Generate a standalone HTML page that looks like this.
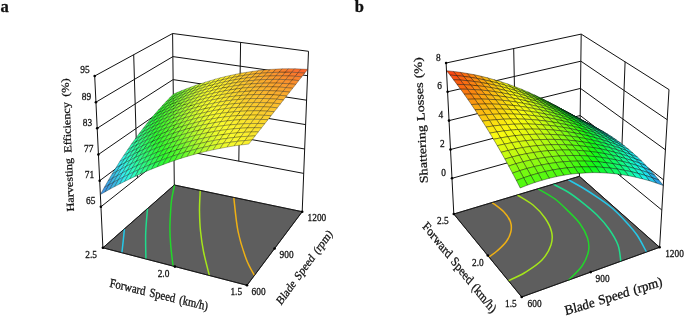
<!DOCTYPE html>
<html><head><meta charset="utf-8"><title>Response surfaces</title>
<style>html,body{margin:0;padding:0;background:#fff}svg{display:block}</style></head>
<body>
<svg width="685" height="319" viewBox="0 0 685 319" font-family="'Liberation Serif', 'Times New Roman', serif" fill="#111">
<g stroke="#111" fill="none">
<line x1="100.9" y1="206.8" x2="173.9" y2="148.9" stroke-width="1.0"/>
<line x1="173.9" y1="148.9" x2="303.7" y2="173.4" stroke-width="1.0"/>
<line x1="99.7" y1="180.7" x2="173.6" y2="125.8" stroke-width="1.0"/>
<line x1="173.6" y1="125.8" x2="304.7" y2="149" stroke-width="1.0"/>
<line x1="98.4" y1="154.5" x2="173.4" y2="102.7" stroke-width="1.0"/>
<line x1="173.4" y1="102.7" x2="305.6" y2="124.6" stroke-width="1.0"/>
<line x1="97.2" y1="128.3" x2="173.1" y2="79.6" stroke-width="1.0"/>
<line x1="173.1" y1="79.6" x2="306.6" y2="100.2" stroke-width="1.0"/>
<line x1="95.9" y1="102.2" x2="172.9" y2="56.6" stroke-width="1.0"/>
<line x1="172.9" y1="56.6" x2="307.5" y2="75.7" stroke-width="1.0"/>
<line x1="94.7" y1="76" x2="172.6" y2="33.5" stroke-width="1.0"/>
<line x1="172.6" y1="33.5" x2="308.5" y2="51.3" stroke-width="1.0"/>
<line x1="102.9" y1="247.8" x2="94.7" y2="76" stroke-width="1.0"/>
<line x1="174.3" y1="185" x2="172.6" y2="33.5" stroke-width="1.0"/>
<line x1="302.2" y1="211.7" x2="308.5" y2="51.3" stroke-width="1.0"/>
<line x1="137.4" y1="177.8" x2="133.7" y2="54.8" stroke-width="1.0"/>
<line x1="238.8" y1="161.2" x2="240.6" y2="42.4" stroke-width="1.0"/>
</g>
<polygon points="102.9,247.8 174.3,185 302.2,211.7 247,285.3" fill="#5e5e5e" stroke="#111" stroke-width="0.8"/>
<g fill="none" stroke-width="1.5" stroke-linecap="butt">
<path d="M124.4 229C124.2 231 123.6 237 123.2 241C122.8 245 122.1 250.8 121.9 252.8" stroke="#25c8e8"/>
<path d="M147.5 208.5C147.2 212.6 146 224.6 145.7 233C145.4 241.4 145.9 254.7 145.9 259" stroke="#1fdc8c"/>
<path d="M174.6 184.8C174.1 187.3 172.3 195 171.6 200C170.9 205 170.7 210.3 170.4 215C170.1 219.7 169.9 223 169.9 228C169.9 233 170.2 238.7 170.7 245C171.2 251.3 172.6 262.3 173 265.8" stroke="#22d62a"/>
<path d="M200.2 190.6C200.1 194 199.4 204.3 199.5 211C199.6 217.7 199.8 224.2 200.5 231C201.2 237.8 202.1 244.6 203.6 252C205.1 259.4 208.4 271.4 209.3 275.3" stroke="#a5e61a"/>
<path d="M233.8 197.6C234.5 203.3 236 221.5 238.1 231.7C240.2 241.9 243.5 251.7 246.2 259C248.9 266.3 253 272.7 254.4 275.4" stroke="#eeb014"/>
</g>
<polygon points="102.9,247.8 174.3,185 302.2,211.7 247,285.3" fill="none" stroke="#111" stroke-width="0.8"/>
<g stroke="rgba(0,0,0,0.62)" stroke-width="0.45" stroke-linejoin="round">
<polygon points="169.5,98 173.9,96.1 177.6,92.3 173.3,94.2" fill="#4efa2d"/>
<polygon points="173.9,96.1 178.4,94.2 182.1,90.5 177.6,92.3" fill="#5ffa2d"/>
<polygon points="178.4,94.2 182.9,92.4 186.6,88.7 182.1,90.5" fill="#78fa2d"/>
<polygon points="182.9,92.4 187.5,90.6 191.2,87 186.6,88.7" fill="#91fa2d"/>
<polygon points="165.8,101.9 170.2,99.9 173.9,96.1 169.5,98" fill="#45fa2d"/>
<polygon points="187.5,90.6 192.2,88.9 195.8,85.3 191.2,87" fill="#aafa2d"/>
<polygon points="170.2,99.9 174.6,98 178.4,94.2 173.9,96.1" fill="#57fa2d"/>
<polygon points="192.2,88.9 196.9,87.2 200.6,83.7 195.8,85.3" fill="#c0fa2d"/>
<polygon points="174.6,98 179.2,96.1 182.9,92.4 178.4,94.2" fill="#6dfa2d"/>
<polygon points="196.9,87.2 201.8,85.6 205.4,82.2 200.6,83.7" fill="#d3fa2d"/>
<polygon points="179.2,96.1 183.8,94.3 187.5,90.6 182.9,92.4" fill="#86fa2d"/>
<polygon points="162,106 166.4,104 170.2,99.9 165.8,101.9" fill="#3cfa2d"/>
<polygon points="201.8,85.6 206.7,84.1 210.3,80.7 205.4,82.2" fill="#e6fa2d"/>
<polygon points="183.8,94.3 188.5,92.5 192.2,88.9 187.5,90.6" fill="#9ffa2d"/>
<polygon points="166.4,104 170.9,102 174.6,98 170.2,99.9" fill="#4efa2d"/>
<polygon points="206.7,84.1 211.7,82.6 215.3,79.2 210.3,80.7" fill="#f2fa2d"/>
<polygon points="188.5,92.5 193.3,90.8 196.9,87.2 192.2,88.9" fill="#b7fa2d"/>
<polygon points="170.9,102 175.5,100 179.2,96.1 174.6,98" fill="#60fa2d"/>
<polygon points="211.7,82.6 216.8,81.2 220.3,77.8 215.3,79.2" fill="#faf92d"/>
<polygon points="193.3,90.8 198.2,89.2 201.8,85.6 196.9,87.2" fill="#cbfa2d"/>
<polygon points="175.5,100 180.1,98.2 183.8,94.3 179.2,96.1" fill="#7afa2d"/>
<polygon points="158.2,110.2 162.6,108.1 166.4,104 162,106" fill="#31fa2d"/>
<polygon points="216.8,81.2 222,79.9 225.5,76.5 220.3,77.8" fill="#faf12d"/>
<polygon points="198.2,89.2 203.1,87.6 206.7,84.1 201.8,85.6" fill="#defa2d"/>
<polygon points="180.1,98.2 184.8,96.3 188.5,92.5 183.8,94.3" fill="#93fa2d"/>
<polygon points="162.6,108.1 167.1,106.1 170.9,102 166.4,104" fill="#44fa2d"/>
<polygon points="222,79.9 227.3,78.6 230.8,75.3 225.5,76.5" fill="#fae82d"/>
<polygon points="203.1,87.6 208.2,86.1 211.7,82.6 206.7,84.1" fill="#eefa2d"/>
<polygon points="184.8,96.3 189.7,94.6 193.3,90.8 188.5,92.5" fill="#acfa2d"/>
<polygon points="167.1,106.1 171.7,104.1 175.5,100 170.9,102" fill="#56fa2d"/>
<polygon points="227.3,78.6 232.7,77.5 236.1,74.2 230.8,75.3" fill="#fade2d"/>
<polygon points="208.2,86.1 213.3,84.7 216.8,81.2 211.7,82.6" fill="#f7fa2d"/>
<polygon points="189.7,94.6 194.6,92.9 198.2,89.2 193.3,90.8" fill="#c2fa2d"/>
<polygon points="171.7,104.1 176.4,102.2 180.1,98.2 175.5,100" fill="#6cfa2d"/>
<polygon points="154.4,114.6 158.8,112.5 162.6,108.1 158.2,110.2" fill="#2dfa34"/>
<polygon points="232.7,77.5 238.1,76.4 241.5,73.1 236.1,74.2" fill="#fad32d"/>
<polygon points="213.3,84.7 218.5,83.3 222,79.9 216.8,81.2" fill="#faf52d"/>
<polygon points="194.6,92.9 199.5,91.3 203.1,87.6 198.2,89.2" fill="#d5fa2d"/>
<polygon points="176.4,102.2 181.2,100.3 184.8,96.3 180.1,98.2" fill="#86fa2d"/>
<polygon points="158.8,112.5 163.4,110.4 167.1,106.1 162.6,108.1" fill="#39fa2d"/>
<polygon points="238.1,76.4 243.7,75.5 247,72.2 241.5,73.1" fill="#fac92d"/>
<polygon points="218.5,83.3 223.8,82.1 227.3,78.6 222,79.9" fill="#faeb2d"/>
<polygon points="199.5,91.3 204.6,89.7 208.2,86.1 203.1,87.6" fill="#e8fa2d"/>
<polygon points="181.2,100.3 186,98.5 189.7,94.6 184.8,96.3" fill="#9ffa2d"/>
<polygon points="163.4,110.4 168,108.3 171.7,104.1 167.1,106.1" fill="#4cfa2d"/>
<polygon points="243.7,75.5 249.3,74.6 252.7,71.3 247,72.2" fill="#fac02d"/>
<polygon points="223.8,82.1 229.2,80.9 232.7,77.5 227.3,78.6" fill="#fae22d"/>
<polygon points="204.6,89.7 209.8,88.3 213.3,84.7 208.2,86.1" fill="#f3fa2d"/>
<polygon points="186,98.5 190.9,96.8 194.6,92.9 189.7,94.6" fill="#b8fa2d"/>
<polygon points="168,108.3 172.7,106.4 176.4,102.2 171.7,104.1" fill="#5efa2d"/>
<polygon points="150.6,119.1 155,116.9 158.8,112.5 154.4,114.6" fill="#2dfa40"/>
<polygon points="249.3,74.6 255.1,73.9 258.4,70.6 252.7,71.3" fill="#fab62d"/>
<polygon points="229.2,80.9 234.7,79.8 238.1,76.4 232.7,77.5" fill="#fad82d"/>
<polygon points="209.8,88.3 215,86.9 218.5,83.3 213.3,84.7" fill="#faf82d"/>
<polygon points="190.9,96.8 195.9,95.1 199.5,91.3 194.6,92.9" fill="#ccfa2d"/>
<polygon points="172.7,106.4 177.5,104.4 181.2,100.3 176.4,102.2" fill="#78fa2d"/>
<polygon points="155,116.9 159.6,114.8 163.4,110.4 158.8,112.5" fill="#2efa2d"/>
<polygon points="255.1,73.9 260.9,73.3 264.2,70 258.4,70.6" fill="#faac2d"/>
<polygon points="234.7,79.8 240.3,78.9 243.7,75.5 238.1,76.4" fill="#facd2d"/>
<polygon points="215,86.9 220.4,85.6 223.8,82.1 218.5,83.3" fill="#faf02d"/>
<polygon points="195.9,95.1 201,93.5 204.6,89.7 199.5,91.3" fill="#dffa2d"/>
<polygon points="177.5,104.4 182.3,102.6 186,98.5 181.2,100.3" fill="#92fa2d"/>
<polygon points="159.6,114.8 164.2,112.7 168,108.3 163.4,110.4" fill="#41fa2d"/>
<polygon points="260.9,73.3 266.9,72.8 270.1,69.4 264.2,70" fill="#faa22d"/>
<polygon points="240.3,78.9 246,78 249.3,74.6 243.7,75.5" fill="#fac42d"/>
<polygon points="220.4,85.6 225.8,84.5 229.2,80.9 223.8,82.1" fill="#fae72d"/>
<polygon points="201,93.5 206.2,92.1 209.8,88.3 204.6,89.7" fill="#effa2d"/>
<polygon points="182.3,102.6 187.3,100.8 190.9,96.8 186,98.5" fill="#abfa2d"/>
<polygon points="164.2,112.7 168.9,110.7 172.7,106.4 168,108.3" fill="#54fa2d"/>
<polygon points="146.7,123.8 151.2,121.6 155,116.9 150.6,119.1" fill="#2dfa4f"/>
<polygon points="246,78 251.8,77.3 255.1,73.9 249.3,74.6" fill="#fabb2d"/>
<polygon points="266.9,72.8 272.9,72.5 276.1,69.1 270.1,69.4" fill="#fa972d"/>
<polygon points="225.8,84.5 231.3,83.4 234.7,79.8 229.2,80.9" fill="#fadd2d"/>
<polygon points="206.2,92.1 211.5,90.7 215,86.9 209.8,88.3" fill="#f7fa2d"/>
<polygon points="187.3,100.8 192.3,99.1 195.9,95.1 190.9,96.8" fill="#c1fa2d"/>
<polygon points="168.9,110.7 173.7,108.7 177.5,104.4 172.7,106.4" fill="#68fa2d"/>
<polygon points="151.2,121.6 155.8,119.4 159.6,114.8 155,116.9" fill="#2dfa38"/>
<polygon points="251.8,77.3 257.7,76.7 260.9,73.3 255.1,73.9" fill="#fab12d"/>
<polygon points="231.3,83.4 236.9,82.4 240.3,78.9 234.7,79.8" fill="#fad32d"/>
<polygon points="272.9,72.5 279.1,72.3 282.2,68.8 276.1,69.1" fill="#fa8d2d"/>
<polygon points="211.5,90.7 216.9,89.3 220.4,85.6 215,86.9" fill="#faf42d"/>
<polygon points="192.3,99.1 197.4,97.5 201,93.5 195.9,95.1" fill="#d4fa2d"/>
<polygon points="173.7,108.7 178.6,106.8 182.3,102.6 177.5,104.4" fill="#83fa2d"/>
<polygon points="155.8,119.4 160.5,117.3 164.2,112.7 159.6,114.8" fill="#35fa2d"/>
<polygon points="236.9,82.4 242.7,81.6 246,78 240.3,78.9" fill="#fac92d"/>
<polygon points="216.9,89.3 222.3,88.1 225.8,84.5 220.4,85.6" fill="#faeb2d"/>
<polygon points="257.7,76.7 263.7,76.3 266.9,72.8 260.9,73.3" fill="#faa82d"/>
<polygon points="197.4,97.5 202.6,96 206.2,92.1 201,93.5" fill="#e7fa2d"/>
<polygon points="279.1,72.3 285.4,72.2 288.5,68.7 282.2,68.8" fill="#fa812d"/>
<polygon points="178.6,106.8 183.6,105 187.3,100.8 182.3,102.6" fill="#9cfa2d"/>
<polygon points="160.5,117.3 165.2,115.2 168.9,110.7 164.2,112.7" fill="#48fa2d"/>
<polygon points="142.9,128.7 147.4,126.4 151.2,121.6 146.7,123.8" fill="#2dfa60"/>
<polygon points="222.3,88.1 227.9,87.1 231.3,83.4 225.8,84.5" fill="#fae32d"/>
<polygon points="242.7,81.6 248.5,80.9 251.8,77.3 246,78" fill="#fac02d"/>
<polygon points="202.6,96 208,94.5 211.5,90.7 206.2,92.1" fill="#f3fa2d"/>
<polygon points="263.7,76.3 269.8,76 272.9,72.5 266.9,72.8" fill="#fa9f2d"/>
<polygon points="183.6,105 188.7,103.3 192.3,99.1 187.3,100.8" fill="#b5fa2d"/>
<polygon points="285.4,72.2 291.7,72.3 294.8,68.7 288.5,68.7" fill="#fa772d"/>
<polygon points="165.2,115.2 170,113.2 173.7,108.7 168.9,110.7" fill="#5afa2d"/>
<polygon points="147.4,126.4 152,124.2 155.8,119.4 151.2,121.6" fill="#2dfa47"/>
<polygon points="227.9,87.1 233.5,86.1 236.9,82.4 231.3,83.4" fill="#fad82d"/>
<polygon points="208,94.5 213.4,93.2 216.9,89.3 211.5,90.7" fill="#faf92d"/>
<polygon points="248.5,80.9 254.4,80.3 257.7,76.7 251.8,77.3" fill="#fab72d"/>
<polygon points="188.7,103.3 193.8,101.6 197.4,97.5 192.3,99.1" fill="#c9fa2d"/>
<polygon points="269.8,76 276,75.8 279.1,72.3 272.9,72.5" fill="#fa952d"/>
<polygon points="170,113.2 174.9,111.2 178.6,106.8 173.7,108.7" fill="#72fa2d"/>
<polygon points="291.7,72.3 298.2,72.6 301.2,69 294.8,68.7" fill="#fa6e2d"/>
<polygon points="152,124.2 156.7,122 160.5,117.3 155.8,119.4" fill="#2dfa32"/>
<polygon points="213.4,93.2 218.8,92 222.3,88.1 216.9,89.3" fill="#faf12d"/>
<polygon points="193.8,101.6 199.1,100 202.6,96 197.4,97.5" fill="#dcfa2d"/>
<polygon points="233.5,86.1 239.3,85.2 242.7,81.6 236.9,82.4" fill="#face2d"/>
<polygon points="174.9,111.2 179.9,109.4 183.6,105 178.6,106.8" fill="#8cfa2d"/>
<polygon points="254.4,80.3 260.4,79.8 263.7,76.3 257.7,76.7" fill="#faae2d"/>
<polygon points="156.7,122 161.4,119.8 165.2,115.2 160.5,117.3" fill="#3cfa2d"/>
<polygon points="276,75.8 282.3,75.8 285.4,72.2 279.1,72.3" fill="#fa8d2d"/>
<polygon points="139,133.7 143.6,131.4 147.4,126.4 142.9,128.7" fill="#2dfa72"/>
<polygon points="298.2,72.6 304.8,73.1 307.8,69.3 301.2,69" fill="#fa662d"/>
<polygon points="199.1,100 204.4,98.6 208,94.5 202.6,96" fill="#edfa2d"/>
<polygon points="218.8,92 224.4,90.9 227.9,87.1 222.3,88.1" fill="#fae82d"/>
<polygon points="179.9,109.4 185,107.6 188.7,103.3 183.6,105" fill="#a6fa2d"/>
<polygon points="239.3,85.2 245.1,84.5 248.5,80.9 242.7,81.6" fill="#fac62d"/>
<polygon points="161.4,119.8 166.3,117.8 170,113.2 165.2,115.2" fill="#4efa2d"/>
<polygon points="260.4,79.8 266.5,79.5 269.8,76 263.7,76.3" fill="#faa62d"/>
<polygon points="143.6,131.4 148.2,129.1 152,124.2 147.4,126.4" fill="#2dfa59"/>
<polygon points="282.3,75.8 288.7,76 291.7,72.3 285.4,72.2" fill="#fa832d"/>
<polygon points="204.4,98.6 209.8,97.2 213.4,93.2 208,94.5" fill="#f6fa2d"/>
<polygon points="185,107.6 190.2,105.9 193.8,101.6 188.7,103.3" fill="#bdfa2d"/>
<polygon points="224.4,90.9 230.1,89.9 233.5,86.1 227.9,87.1" fill="#fadf2d"/>
<polygon points="166.3,117.8 171.2,115.8 174.9,111.2 170,113.2" fill="#61fa2d"/>
<polygon points="245.1,84.5 251.1,83.9 254.4,80.3 248.5,80.9" fill="#fabe2d"/>
<polygon points="148.2,129.1 152.9,126.9 156.7,122 152,124.2" fill="#2dfa3f"/>
<polygon points="266.5,79.5 272.8,79.4 276,75.8 269.8,76" fill="#fa9d2d"/>
<polygon points="288.7,76 295.2,76.3 298.2,72.6 291.7,72.3" fill="#fa7b2d"/>
<polygon points="190.2,105.9 195.5,104.3 199.1,100 193.8,101.6" fill="#d0fa2d"/>
<polygon points="209.8,97.2 215.4,95.9 218.8,92 213.4,93.2" fill="#faf62d"/>
<polygon points="171.2,115.8 176.2,113.9 179.9,109.4 174.9,111.2" fill="#7bfa2d"/>
<polygon points="230.1,89.9 235.9,89 239.3,85.2 233.5,86.1" fill="#fad52d"/>
<polygon points="152.9,126.9 157.7,124.7 161.4,119.8 156.7,122" fill="#2efa2d"/>
<polygon points="251.1,83.9 257.2,83.5 260.4,79.8 254.4,80.3" fill="#fab52d"/>
<polygon points="135.2,138.9 139.8,136.5 143.6,131.4 139,133.7" fill="#2dfa85"/>
<polygon points="272.8,79.4 279.1,79.4 282.3,75.8 276,75.8" fill="#fa952d"/>
<polygon points="295.2,76.3 301.8,76.8 304.8,73.1 298.2,72.6" fill="#fa742d"/>
<polygon points="176.2,113.9 181.4,112.1 185,107.6 179.9,109.4" fill="#95fa2d"/>
<polygon points="195.5,104.3 200.8,102.8 204.4,98.6 199.1,100" fill="#e3fa2d"/>
<polygon points="157.7,124.7 162.5,122.6 166.3,117.8 161.4,119.8" fill="#41fa2d"/>
<polygon points="215.4,95.9 221,94.8 224.4,90.9 218.8,92" fill="#faed2d"/>
<polygon points="139.8,136.5 144.4,134.2 148.2,129.1 143.6,131.4" fill="#2dfa6b"/>
<polygon points="235.9,89 241.8,88.2 245.1,84.5 239.3,85.2" fill="#facb2d"/>
<polygon points="257.2,83.5 263.3,83.2 266.5,79.5 260.4,79.8" fill="#faad2d"/>
<polygon points="279.1,79.4 285.6,79.6 288.7,76 282.3,75.8" fill="#fa8e2d"/>
<polygon points="181.4,112.1 186.6,110.3 190.2,105.9 185,107.6" fill="#aefa2d"/>
<polygon points="162.5,122.6 167.5,120.5 171.2,115.8 166.3,117.8" fill="#54fa2d"/>
<polygon points="200.8,102.8 206.3,101.3 209.8,97.2 204.4,98.6" fill="#f0fa2d"/>
<polygon points="144.4,134.2 149.1,131.9 152.9,126.9 148.2,129.1" fill="#2dfa52"/>
<polygon points="221,94.8 226.7,93.8 230.1,89.9 224.4,90.9" fill="#fae52d"/>
<polygon points="241.8,88.2 247.8,87.6 251.1,83.9 245.1,84.5" fill="#fac32d"/>
<polygon points="263.3,83.2 269.6,83.1 272.8,79.4 266.5,79.5" fill="#faa62d"/>
<polygon points="285.6,79.6 292.1,80 295.2,76.3 288.7,76" fill="#fa872d"/>
<polygon points="167.5,120.5 172.5,118.6 176.2,113.9 171.2,115.8" fill="#69fa2d"/>
<polygon points="186.6,110.3 191.9,108.7 195.5,104.3 190.2,105.9" fill="#c3fa2d"/>
<polygon points="149.1,131.9 153.9,129.7 157.7,124.7 152.9,126.9" fill="#2dfa3a"/>
<polygon points="206.3,101.3 211.8,100 215.4,95.9 209.8,97.2" fill="#f9fa2d"/>
<polygon points="131.3,144.3 135.9,141.9 139.8,136.5 135.2,138.9" fill="#2dfa99"/>
<polygon points="226.7,93.8 232.5,92.9 235.9,89 230.1,89.9" fill="#fadb2d"/>
<polygon points="247.8,87.6 253.9,87.2 257.2,83.5 251.1,83.9" fill="#fabc2d"/>
<polygon points="269.6,83.1 276,83.1 279.1,79.4 272.8,79.4" fill="#fa9e2d"/>
<polygon points="292.1,80 298.8,80.6 301.8,76.8 295.2,76.3" fill="#fa822d"/>
<polygon points="172.5,118.6 177.7,116.7 181.4,112.1 176.2,113.9" fill="#83fa2d"/>
<polygon points="153.9,129.7 158.8,127.6 162.5,122.6 157.7,124.7" fill="#34fa2d"/>
<polygon points="191.9,108.7 197.2,107.1 200.8,102.8 195.5,104.3" fill="#d6fa2d"/>
<polygon points="135.9,141.9 140.6,139.5 144.4,134.2 139.8,136.5" fill="#2dfa7f"/>
<polygon points="211.8,100 217.5,98.9 221,94.8 215.4,95.9" fill="#faf32d"/>
<polygon points="232.5,92.9 238.4,92.1 241.8,88.2 235.9,89" fill="#fad22d"/>
<polygon points="253.9,87.2 260.1,86.9 263.3,83.2 257.2,83.5" fill="#fab42d"/>
<polygon points="276,83.1 282.5,83.4 285.6,79.6 279.1,79.4" fill="#fa972d"/>
<polygon points="158.8,127.6 163.8,125.5 167.5,120.5 162.5,122.6" fill="#46fa2d"/>
<polygon points="177.7,116.7 182.9,114.9 186.6,110.3 181.4,112.1" fill="#9dfa2d"/>
<polygon points="140.6,139.5 145.3,137.2 149.1,131.9 144.4,134.2" fill="#2dfa65"/>
<polygon points="197.2,107.1 202.7,105.6 206.3,101.3 200.8,102.8" fill="#e9fa2d"/>
<polygon points="217.5,98.9 223.2,97.8 226.7,93.8 221,94.8" fill="#faeb2d"/>
<polygon points="238.4,92.1 244.5,91.5 247.8,87.6 241.8,88.2" fill="#faca2d"/>
<polygon points="260.1,86.9 266.4,86.8 269.6,83.1 263.3,83.2" fill="#faac2d"/>
<polygon points="282.5,83.4 289.1,83.8 292.1,80 285.6,79.6" fill="#fa922d"/>
<polygon points="145.3,137.2 150.1,134.9 153.9,129.7 149.1,131.9" fill="#2dfa4c"/>
<polygon points="163.8,125.5 168.8,123.5 172.5,118.6 167.5,120.5" fill="#59fa2d"/>
<polygon points="127.5,149.9 132.1,147.4 135.9,141.9 131.3,144.3" fill="#2dfab0"/>
<polygon points="182.9,114.9 188.2,113.2 191.9,108.7 186.6,110.3" fill="#b5fa2d"/>
<polygon points="202.7,105.6 208.3,104.3 211.8,100 206.3,101.3" fill="#f3fa2d"/>
<polygon points="223.2,97.8 229.1,96.9 232.5,92.9 226.7,93.8" fill="#fae32d"/>
<polygon points="244.5,91.5 250.6,91 253.9,87.2 247.8,87.6" fill="#fac22d"/>
<polygon points="266.4,86.8 272.8,86.9 276,83.1 269.6,83.1" fill="#faa62d"/>
<polygon points="150.1,134.9 155,132.7 158.8,127.6 153.9,129.7" fill="#2dfa35"/>
<polygon points="132.1,147.4 136.7,145 140.6,139.5 135.9,141.9" fill="#2dfa93"/>
<polygon points="168.8,123.5 174,121.5 177.7,116.7 172.5,118.6" fill="#70fa2d"/>
<polygon points="188.2,113.2 193.7,111.6 197.2,107.1 191.9,108.7" fill="#c9fa2d"/>
<polygon points="289.1,83.8 295.8,84.4 298.8,80.6 292.1,80" fill="#fa8e2d"/>
<polygon points="208.3,104.3 214,103.1 217.5,98.9 211.8,100" fill="#faf92d"/>
<polygon points="229.1,96.9 235.1,96.1 238.4,92.1 232.5,92.9" fill="#fad92d"/>
<polygon points="250.6,91 256.8,90.7 260.1,86.9 253.9,87.2" fill="#fabb2d"/>
<polygon points="272.8,86.9 279.3,87.1 282.5,83.4 276,83.1" fill="#faa02d"/>
<polygon points="136.7,145 141.5,142.6 145.3,137.2 140.6,139.5" fill="#2dfa79"/>
<polygon points="155,132.7 160,130.6 163.8,125.5 158.8,127.6" fill="#38fa2d"/>
<polygon points="174,121.5 179.3,119.7 182.9,114.9 177.7,116.7" fill="#8afa2d"/>
<polygon points="193.7,111.6 199.2,110.1 202.7,105.6 197.2,107.1" fill="#dcfa2d"/>
<polygon points="214,103.1 219.8,102 223.2,97.8 217.5,98.9" fill="#faf12d"/>
<polygon points="235.1,96.1 241.1,95.5 244.5,91.5 238.4,92.1" fill="#fad02d"/>
<polygon points="256.8,90.7 263.2,90.6 266.4,86.8 260.1,86.9" fill="#fab42d"/>
<polygon points="141.5,142.6 146.3,140.3 150.1,134.9 145.3,137.2" fill="#2dfa60"/>
<polygon points="123.6,155.7 128.2,153.1 132.1,147.4 127.5,149.9" fill="#2ef9ca"/>
<polygon points="160,130.6 165.1,128.5 168.8,123.5 163.8,125.5" fill="#4bfa2d"/>
<polygon points="179.3,119.7 184.6,117.9 188.2,113.2 182.9,114.9" fill="#a3fa2d"/>
<polygon points="279.3,87.1 286,87.6 289.1,83.8 282.5,83.4" fill="#fa9b2d"/>
<polygon points="199.2,110.1 204.8,108.7 208.3,104.3 202.7,105.6" fill="#edfa2d"/>
<polygon points="219.8,102 225.7,101 229.1,96.9 223.2,97.8" fill="#fae92d"/>
<polygon points="241.1,95.5 247.3,95 250.6,91 244.5,91.5" fill="#fac82d"/>
<polygon points="128.2,153.1 132.9,150.7 136.7,145 132.1,147.4" fill="#2dfaaa"/>
<polygon points="146.3,140.3 151.3,138.1 155,132.7 150.1,134.9" fill="#2dfa46"/>
<polygon points="263.2,90.6 269.6,90.7 272.8,86.9 266.4,86.8" fill="#faae2d"/>
<polygon points="165.1,128.5 170.3,126.6 174,121.5 168.8,123.5" fill="#5dfa2d"/>
<polygon points="184.6,117.9 190,116.3 193.7,111.6 188.2,113.2" fill="#bafa2d"/>
<polygon points="204.8,108.7 210.5,107.5 214,103.1 208.3,104.3" fill="#f5fa2d"/>
<polygon points="286,87.6 292.7,88.3 295.8,84.4 289.1,83.8" fill="#fa982d"/>
<polygon points="225.7,101 231.7,100.2 235.1,96.1 229.1,96.9" fill="#fae12d"/>
<polygon points="247.3,95 253.6,94.7 256.8,90.7 250.6,91" fill="#fac22d"/>
<polygon points="132.9,150.7 137.7,148.3 141.5,142.6 136.7,145" fill="#2dfa8f"/>
<polygon points="151.3,138.1 156.3,135.9 160,130.6 155,132.7" fill="#2dfa31"/>
<polygon points="170.3,126.6 175.6,124.7 179.3,119.7 174,121.5" fill="#76fa2d"/>
<polygon points="269.6,90.7 276.2,91 279.3,87.1 272.8,86.9" fill="#faa82d"/>
<polygon points="190,116.3 195.6,114.7 199.2,110.1 193.7,111.6" fill="#cdfa2d"/>
<polygon points="210.5,107.5 216.3,106.3 219.8,102 214,103.1" fill="#faf72d"/>
<polygon points="231.7,100.2 237.8,99.5 241.1,95.5 235.1,96.1" fill="#fad82d"/>
<polygon points="119.7,161.6 124.4,159.1 128.2,153.1 123.6,155.7" fill="#32f3e0"/>
<polygon points="137.7,148.3 142.5,145.9 146.3,140.3 141.5,142.6" fill="#2dfa75"/>
<polygon points="156.3,135.9 161.4,133.8 165.1,128.5 160,130.6" fill="#3cfa2d"/>
<polygon points="253.6,94.7 260,94.5 263.2,90.6 256.8,90.7" fill="#fabb2d"/>
<polygon points="175.6,124.7 181,122.9 184.6,117.9 179.3,119.7" fill="#8ffa2d"/>
<polygon points="195.6,114.7 201.2,113.3 204.8,108.7 199.2,110.1" fill="#e0fa2d"/>
<polygon points="276.2,91 282.9,91.4 286,87.6 279.3,87.1" fill="#faa42d"/>
<polygon points="216.3,106.3 222.2,105.3 225.7,101 219.8,102" fill="#faef2d"/>
<polygon points="237.8,99.5 244,99 247.3,95 241.1,95.5" fill="#facf2d"/>
<polygon points="124.4,159.1 129.1,156.6 132.9,150.7 128.2,153.1" fill="#2dfac5"/>
<polygon points="142.5,145.9 147.5,143.6 151.3,138.1 146.3,140.3" fill="#2dfa5b"/>
<polygon points="161.4,133.8 166.6,131.8 170.3,126.6 165.1,128.5" fill="#4ffa2d"/>
<polygon points="260,94.5 266.5,94.6 269.6,90.7 263.2,90.6" fill="#fab52d"/>
<polygon points="181,122.9 186.4,121.1 190,116.3 184.6,117.9" fill="#a8fa2d"/>
<polygon points="201.2,113.3 207,112 210.5,107.5 204.8,108.7" fill="#effa2d"/>
<polygon points="282.9,91.4 289.7,92.1 292.7,88.3 286,87.6" fill="#faa12d"/>
<polygon points="222.2,105.3 228.3,104.4 231.7,100.2 225.7,101" fill="#fae72d"/>
<polygon points="129.1,156.6 133.9,154.1 137.7,148.3 132.9,150.7" fill="#2dfaa5"/>
<polygon points="147.5,143.6 152.5,141.4 156.3,135.9 151.3,138.1" fill="#2dfa42"/>
<polygon points="244,99 250.3,98.7 253.6,94.7 247.3,95" fill="#fac82d"/>
<polygon points="166.6,131.8 171.9,129.8 175.6,124.7 170.3,126.6" fill="#61fa2d"/>
<polygon points="186.4,121.1 192,119.5 195.6,114.7 190,116.3" fill="#befa2d"/>
<polygon points="266.5,94.6 273.1,94.8 276.2,91 269.6,90.7" fill="#fab02d"/>
<polygon points="207,112 212.8,110.8 216.3,106.3 210.5,107.5" fill="#f6fa2d"/>
<polygon points="115.9,167.8 120.5,165.2 124.4,159.1 119.7,161.6" fill="#36e6ed"/>
<polygon points="228.3,104.4 234.4,103.7 237.8,99.5 231.7,100.2" fill="#fae02d"/>
<polygon points="133.9,154.1 138.7,151.7 142.5,145.9 137.7,148.3" fill="#2dfa8b"/>
<polygon points="152.5,141.4 157.7,139.2 161.4,133.8 156.3,135.9" fill="#2dfa2e"/>
<polygon points="171.9,129.8 177.3,127.9 181,122.9 175.6,124.7" fill="#7bfa2d"/>
<polygon points="250.3,98.7 256.7,98.5 260,94.5 253.6,94.7" fill="#fac22d"/>
<polygon points="192,119.5 197.7,118 201.2,113.3 195.6,114.7" fill="#d1fa2d"/>
<polygon points="273.1,94.8 279.8,95.3 282.9,91.4 276.2,91" fill="#faac2d"/>
<polygon points="212.8,110.8 218.8,109.7 222.2,105.3 216.3,106.3" fill="#faf62d"/>
<polygon points="120.5,165.2 125.2,162.7 129.1,156.6 124.4,159.1" fill="#31f4dd"/>
<polygon points="138.7,151.7 143.7,149.4 147.5,143.6 142.5,145.9" fill="#2dfa71"/>
<polygon points="234.4,103.7 240.6,103.2 244,99 237.8,99.5" fill="#fad72d"/>
<polygon points="157.7,139.2 162.9,137.1 166.6,131.8 161.4,133.8" fill="#3ffa2d"/>
<polygon points="177.3,127.9 182.8,126.2 186.4,121.1 181,122.9" fill="#94fa2d"/>
<polygon points="256.7,98.5 263.2,98.5 266.5,94.6 260,94.5" fill="#fabd2d"/>
<polygon points="197.7,118 203.4,116.7 207,112 201.2,113.3" fill="#e3fa2d"/>
<polygon points="218.8,109.7 224.8,108.8 228.3,104.4 222.2,105.3" fill="#faee2d"/>
<polygon points="125.2,162.7 130,160.2 133.9,154.1 129.1,156.6" fill="#2dfac2"/>
<polygon points="279.8,95.3 286.6,96 289.7,92.1 282.9,91.4" fill="#faa92d"/>
<polygon points="143.7,149.4 148.8,147.1 152.5,141.4 147.5,143.6" fill="#2dfa58"/>
<polygon points="162.9,137.1 168.2,135.1 171.9,129.8 166.6,131.8" fill="#51fa2d"/>
<polygon points="240.6,103.2 247,102.8 250.3,98.7 244,99" fill="#facf2d"/>
<polygon points="182.8,126.2 188.4,124.5 192,119.5 186.4,121.1" fill="#acfa2d"/>
<polygon points="263.2,98.5 269.9,98.8 273.1,94.8 266.5,94.6" fill="#fab72d"/>
<polygon points="203.4,116.7 209.3,115.4 212.8,110.8 207,112" fill="#f0fa2d"/>
<polygon points="112,174.1 116.6,171.5 120.5,165.2 115.9,167.8" fill="#3acce8"/>
<polygon points="130,160.2 134.9,157.7 138.7,151.7 133.9,154.1" fill="#2dfaa2"/>
<polygon points="224.8,108.8 231,108 234.4,103.7 228.3,104.4" fill="#fae72d"/>
<polygon points="148.8,147.1 153.9,144.9 157.7,139.2 152.5,141.4" fill="#2dfa3f"/>
<polygon points="168.2,135.1 173.6,133.2 177.3,127.9 171.9,129.8" fill="#65fa2d"/>
<polygon points="247,102.8 253.5,102.6 256.7,98.5 250.3,98.7" fill="#fac92d"/>
<polygon points="188.4,124.5 194.1,123 197.7,118 192,119.5" fill="#c1fa2d"/>
<polygon points="116.6,171.5 121.4,169 125.2,162.7 120.5,165.2" fill="#36e9ee"/>
<polygon points="209.3,115.4 215.3,114.3 218.8,109.7 212.8,110.8" fill="#f8fa2d"/>
<polygon points="269.9,98.8 276.7,99.2 279.8,95.3 273.1,94.8" fill="#fab32d"/>
<polygon points="134.9,157.7 139.9,155.3 143.7,149.4 138.7,151.7" fill="#2dfa88"/>
<polygon points="153.9,144.9 159.2,142.7 162.9,137.1 157.7,139.2" fill="#2efa2d"/>
<polygon points="231,108 237.3,107.4 240.6,103.2 234.4,103.7" fill="#fadf2d"/>
<polygon points="173.6,133.2 179.2,131.4 182.8,126.2 177.3,127.9" fill="#7ffa2d"/>
<polygon points="194.1,123 199.9,121.5 203.4,116.7 197.7,118" fill="#d4fa2d"/>
<polygon points="253.5,102.6 260,102.6 263.2,98.5 256.7,98.5" fill="#fac32d"/>
<polygon points="121.4,169 126.2,166.4 130,160.2 125.2,162.7" fill="#31f5db"/>
<polygon points="139.9,155.3 145,153 148.8,147.1 143.7,149.4" fill="#2dfa6f"/>
<polygon points="215.3,114.3 221.4,113.3 224.8,108.8 218.8,109.7" fill="#faf52d"/>
<polygon points="276.7,99.2 283.5,99.9 286.6,96 279.8,95.3" fill="#fab02d"/>
<polygon points="159.2,142.7 164.5,140.7 168.2,135.1 162.9,137.1" fill="#41fa2d"/>
<polygon points="237.3,107.4 243.7,107 247,102.8 240.6,103.2" fill="#fad72d"/>
<polygon points="179.2,131.4 184.8,129.7 188.4,124.5 182.8,126.2" fill="#97fa2d"/>
<polygon points="108.1,180.7 112.8,178.1 116.6,171.5 112,174.1" fill="#3db6e3"/>
<polygon points="199.9,121.5 205.8,120.2 209.3,115.4 203.4,116.7" fill="#e5fa2d"/>
<polygon points="126.2,166.4 131.1,163.9 134.9,157.7 130,160.2" fill="#2dfabf"/>
<polygon points="260,102.6 266.7,102.8 269.9,98.8 263.2,98.5" fill="#fabf2d"/>
<polygon points="145,153 150.2,150.7 153.9,144.9 148.8,147.1" fill="#2dfa55"/>
<polygon points="221.4,113.3 227.6,112.5 231,108 224.8,108.8" fill="#faee2d"/>
<polygon points="164.5,140.7 170,138.7 173.6,133.2 168.2,135.1" fill="#54fa2d"/>
<polygon points="184.8,129.7 190.5,128 194.1,123 188.4,124.5" fill="#affa2d"/>
<polygon points="243.7,107 250.2,106.7 253.5,102.6 247,102.8" fill="#fad02d"/>
<polygon points="112.8,178.1 117.5,175.5 121.4,169 116.6,171.5" fill="#3acde8"/>
<polygon points="131.1,163.9 136.1,161.5 139.9,155.3 134.9,157.7" fill="#2dfaa1"/>
<polygon points="205.8,120.2 211.8,119 215.3,114.3 209.3,115.4" fill="#f1fa2d"/>
<polygon points="150.2,150.7 155.4,148.5 159.2,142.7 153.9,144.9" fill="#2dfa3d"/>
<polygon points="266.7,102.8 273.5,103.2 276.7,99.2 269.9,98.8" fill="#fabb2d"/>
<polygon points="227.6,112.5 233.9,111.8 237.3,107.4 231,108" fill="#fae62d"/>
<polygon points="170,138.7 175.5,136.8 179.2,131.4 173.6,133.2" fill="#68fa2d"/>
<polygon points="190.5,128 196.3,126.5 199.9,121.5 194.1,123" fill="#c3fa2d"/>
<polygon points="117.5,175.5 122.4,172.9 126.2,166.4 121.4,169" fill="#36eaee"/>
<polygon points="250.2,106.7 256.8,106.7 260,102.6 253.5,102.6" fill="#faca2d"/>
<polygon points="136.1,161.5 141.2,159.1 145,153 139.9,155.3" fill="#2dfa86"/>
<polygon points="211.8,119 218,117.9 221.4,113.3 215.3,114.3" fill="#f8fa2d"/>
<polygon points="155.4,148.5 160.8,146.4 164.5,140.7 159.2,142.7" fill="#30fa2d"/>
<polygon points="273.5,103.2 280.5,103.8 283.5,99.9 276.7,99.2" fill="#fab72d"/>
<polygon points="175.5,136.8 181.2,135 184.8,129.7 179.2,131.4" fill="#81fa2d"/>
<polygon points="233.9,111.8 240.4,111.3 243.7,107 237.3,107.4" fill="#fadf2d"/>
<polygon points="104.2,187.5 108.9,184.9 112.8,178.1 108.1,180.7" fill="#3fa4e1"/>
<polygon points="122.4,172.9 127.3,170.4 131.1,163.9 126.2,166.4" fill="#31f5da"/>
<polygon points="196.3,126.5 202.3,125.1 205.8,120.2 199.9,121.5" fill="#d6fa2d"/>
<polygon points="141.2,159.1 146.4,156.8 150.2,150.7 145,153" fill="#2dfa6d"/>
<polygon points="256.8,106.7 263.5,106.8 266.7,102.8 260,102.6" fill="#fac52d"/>
<polygon points="218,117.9 224.2,117 227.6,112.5 221.4,113.3" fill="#faf52d"/>
<polygon points="160.8,146.4 166.3,144.4 170,138.7 164.5,140.7" fill="#43fa2d"/>
<polygon points="181.2,135 186.9,133.3 190.5,128 184.8,129.7" fill="#9afa2d"/>
<polygon points="108.9,184.9 113.7,182.2 117.5,175.5 112.8,178.1" fill="#3db6e3"/>
<polygon points="240.4,111.3 246.9,111 250.2,106.7 243.7,107" fill="#fad82d"/>
<polygon points="127.3,170.4 132.3,167.9 136.1,161.5 131.1,163.9" fill="#2dfabe"/>
<polygon points="202.3,125.1 208.3,123.9 211.8,119 205.8,120.2" fill="#e7fa2d"/>
<polygon points="146.4,156.8 151.7,154.6 155.4,148.5 150.2,150.7" fill="#2dfa54"/>
<polygon points="263.5,106.8 270.4,107.2 273.5,103.2 266.7,102.8" fill="#fac12d"/>
<polygon points="166.3,144.4 171.9,142.4 175.5,136.8 170,138.7" fill="#55fa2d"/>
<polygon points="224.2,117 230.5,116.3 233.9,111.8 227.6,112.5" fill="#faed2d"/>
<polygon points="113.7,182.2 118.5,179.6 122.4,172.9 117.5,175.5" fill="#3acde8"/>
<polygon points="186.9,133.3 192.8,131.7 196.3,126.5 190.5,128" fill="#b2fa2d"/>
<polygon points="132.3,167.9 137.4,165.5 141.2,159.1 136.1,161.5" fill="#2dfaa0"/>
<polygon points="246.9,111 253.6,110.8 256.8,106.7 250.2,106.7" fill="#fad12d"/>
<polygon points="151.7,154.6 157.1,152.4 160.8,146.4 155.4,148.5" fill="#2dfa3c"/>
<polygon points="208.3,123.9 214.5,122.7 218,117.9 211.8,119" fill="#f1fa2d"/>
<polygon points="171.9,142.4 177.5,140.5 181.2,135 175.5,136.8" fill="#6afa2d"/>
<polygon points="100.4,194.6 105.1,191.9 108.9,184.9 104.2,187.5" fill="#3f96e1"/>
<polygon points="270.4,107.2 277.4,107.8 280.5,103.8 273.5,103.2" fill="#fabe2d"/>
<polygon points="230.5,116.3 237,115.7 240.4,111.3 233.9,111.8" fill="#fae62d"/>
<polygon points="118.5,179.6 123.5,177.1 127.3,170.4 122.4,172.9" fill="#36ebee"/>
<polygon points="192.8,131.7 198.8,130.2 202.3,125.1 196.3,126.5" fill="#c5fa2d"/>
<polygon points="137.4,165.5 142.7,163.1 146.4,156.8 141.2,159.1" fill="#2dfa85"/>
<polygon points="253.6,110.8 260.3,110.9 263.5,106.8 256.8,106.7" fill="#facc2d"/>
<polygon points="157.1,152.4 162.6,150.3 166.3,144.4 160.8,146.4" fill="#31fa2d"/>
<polygon points="214.5,122.7 220.8,121.7 224.2,117 218,117.9" fill="#f9fa2d"/>
<polygon points="105.1,191.9 109.8,189.2 113.7,182.2 108.9,184.9" fill="#3fa4e1"/>
<polygon points="177.5,140.5 183.3,138.8 186.9,133.3 181.2,135" fill="#83fa2d"/>
<polygon points="123.5,177.1 128.5,174.5 132.3,167.9 127.3,170.4" fill="#31f5da"/>
<polygon points="237,115.7 243.6,115.3 246.9,111 240.4,111.3" fill="#fae02d"/>
<polygon points="142.7,163.1 148,160.8 151.7,154.6 146.4,156.8" fill="#2dfa6c"/>
<polygon points="198.8,130.2 204.8,128.9 208.3,123.9 202.3,125.1" fill="#d7fa2d"/>
<polygon points="162.6,150.3 168.2,148.2 171.9,142.4 166.3,144.4" fill="#44fa2d"/>
<polygon points="260.3,110.9 267.2,111.2 270.4,107.2 263.5,106.8" fill="#fac72d"/>
<polygon points="220.8,121.7 227.2,120.9 230.5,116.3 224.2,117" fill="#faf42d"/>
<polygon points="109.8,189.2 114.7,186.6 118.5,179.6 113.7,182.2" fill="#3db5e3"/>
<polygon points="183.3,138.8 189.2,137.1 192.8,131.7 186.9,133.3" fill="#9cfa2d"/>
<polygon points="128.5,174.5 133.7,172.1 137.4,165.5 132.3,167.9" fill="#2dfabe"/>
<polygon points="148,160.8 153.4,158.5 157.1,152.4 151.7,154.6" fill="#2dfa53"/>
<polygon points="243.6,115.3 250.3,115.1 253.6,110.8 246.9,111" fill="#fad92d"/>
<polygon points="204.8,128.9 211,127.7 214.5,122.7 208.3,123.9" fill="#e8fa2d"/>
<polygon points="168.2,148.2 173.9,146.3 177.5,140.5 171.9,142.4" fill="#56fa2d"/>
<polygon points="114.7,186.6 119.7,184 123.5,177.1 118.5,179.6" fill="#3acce8"/>
<polygon points="227.2,120.9 233.7,120.2 237,115.7 230.5,116.3" fill="#faed2d"/>
<polygon points="267.2,111.2 274.2,111.7 277.4,107.8 270.4,107.2" fill="#fac42d"/>
<polygon points="133.7,172.1 138.9,169.6 142.7,163.1 137.4,165.5" fill="#2dfa9f"/>
<polygon points="189.2,137.1 195.2,135.5 198.8,130.2 192.8,131.7" fill="#b3fa2d"/>
<polygon points="153.4,158.5 158.9,156.4 162.6,150.3 157.1,152.4" fill="#2dfa3b"/>
<polygon points="250.3,115.1 257.1,115.1 260.3,110.9 253.6,110.8" fill="#fad32d"/>
<polygon points="211,127.7 217.3,126.6 220.8,121.7 214.5,122.7" fill="#f2fa2d"/>
<polygon points="173.9,146.3 179.7,144.4 183.3,138.8 177.5,140.5" fill="#6cfa2d"/>
<polygon points="119.7,184 124.7,181.4 128.5,174.5 123.5,177.1" fill="#36eaee"/>
<polygon points="138.9,169.6 144.2,167.3 148,160.8 142.7,163.1" fill="#2dfa85"/>
<polygon points="233.7,120.2 240.3,119.7 243.6,115.3 237,115.7" fill="#fae72d"/>
<polygon points="195.2,135.5 201.3,134.1 204.8,128.9 198.8,130.2" fill="#c6fa2d"/>
<polygon points="158.9,156.4 164.5,154.2 168.2,148.2 162.6,150.3" fill="#32fa2d"/>
<polygon points="217.3,126.6 223.8,125.6 227.2,120.9 220.8,121.7" fill="#f9fa2d"/>
<polygon points="257.1,115.1 264,115.3 267.2,111.2 260.3,110.9" fill="#facd2d"/>
<polygon points="124.7,181.4 129.9,178.9 133.7,172.1 128.5,174.5" fill="#31f5db"/>
<polygon points="179.7,144.4 185.6,142.6 189.2,137.1 183.3,138.8" fill="#85fa2d"/>
<polygon points="144.2,167.3 149.7,164.9 153.4,158.5 148,160.8" fill="#2dfa6c"/>
<polygon points="240.3,119.7 247,119.4 250.3,115.1 243.6,115.3" fill="#fae02d"/>
<polygon points="201.3,134.1 207.5,132.7 211,127.7 204.8,128.9" fill="#d8fa2d"/>
<polygon points="164.5,154.2 170.2,152.2 173.9,146.3 168.2,148.2" fill="#45fa2d"/>
<polygon points="129.9,178.9 135.1,176.4 138.9,169.6 133.7,172.1" fill="#2dfabf"/>
<polygon points="223.8,125.6 230.3,124.9 233.7,120.2 227.2,120.9" fill="#faf42d"/>
<polygon points="264,115.3 271.1,115.7 274.2,111.7 267.2,111.2" fill="#faca2d"/>
<polygon points="185.6,142.6 191.6,141 195.2,135.5 189.2,137.1" fill="#9dfa2d"/>
<polygon points="149.7,164.9 155.2,162.7 158.9,156.4 153.4,158.5" fill="#2dfa53"/>
<polygon points="207.5,132.7 213.9,131.6 217.3,126.6 211,127.7" fill="#e9fa2d"/>
<polygon points="247,119.4 253.9,119.3 257.1,115.1 250.3,115.1" fill="#fada2d"/>
<polygon points="170.2,152.2 176.1,150.2 179.7,144.4 173.9,146.3" fill="#57fa2d"/>
<polygon points="135.1,176.4 140.5,173.9 144.2,167.3 138.9,169.6" fill="#2dfaa0"/>
<polygon points="230.3,124.9 236.9,124.3 240.3,119.7 233.7,120.2" fill="#faee2d"/>
<polygon points="191.6,141 197.8,139.4 201.3,134.1 195.2,135.5" fill="#b4fa2d"/>
<polygon points="155.2,162.7 160.8,160.5 164.5,154.2 158.9,156.4" fill="#2dfa3b"/>
<polygon points="213.9,131.6 220.3,130.5 223.8,125.6 217.3,126.6" fill="#f2fa2d"/>
<polygon points="176.1,150.2 182,148.4 185.6,142.6 179.7,144.4" fill="#6cfa2d"/>
<polygon points="253.9,119.3 260.9,119.4 264,115.3 257.1,115.1" fill="#fad42d"/>
<polygon points="140.5,173.9 145.9,171.5 149.7,164.9 144.2,167.3" fill="#2dfa86"/>
<polygon points="197.8,139.4 204,138 207.5,132.7 201.3,134.1" fill="#c7fa2d"/>
<polygon points="236.9,124.3 243.7,123.8 247,119.4 240.3,119.7" fill="#fae72d"/>
<polygon points="160.8,160.5 166.6,158.3 170.2,152.2 164.5,154.2" fill="#32fa2d"/>
<polygon points="220.3,130.5 226.9,129.6 230.3,124.9 223.8,125.6" fill="#f9fa2d"/>
<polygon points="182,148.4 188.1,146.6 191.6,141 185.6,142.6" fill="#86fa2d"/>
<polygon points="260.9,119.4 268,119.7 271.1,115.7 264,115.3" fill="#fad02d"/>
<polygon points="145.9,171.5 151.5,169.2 155.2,162.7 149.7,164.9" fill="#2dfa6c"/>
<polygon points="204,138 210.4,136.7 213.9,131.6 207.5,132.7" fill="#d9fa2d"/>
<polygon points="166.6,158.3 172.4,156.3 176.1,150.2 170.2,152.2" fill="#45fa2d"/>
<polygon points="243.7,123.8 250.6,123.6 253.9,119.3 247,119.4" fill="#fae12d"/>
<polygon points="188.1,146.6 194.2,144.9 197.8,139.4 191.6,141" fill="#9efa2d"/>
<polygon points="226.9,129.6 233.6,128.9 236.9,124.3 230.3,124.9" fill="#faf42d"/>
<polygon points="151.5,169.2 157.2,166.9 160.8,160.5 155.2,162.7" fill="#2dfa53"/>
<polygon points="210.4,136.7 216.9,135.5 220.3,130.5 213.9,131.6" fill="#e9fa2d"/>
<polygon points="172.4,156.3 178.4,154.3 182,148.4 176.1,150.2" fill="#57fa2d"/>
<polygon points="250.6,123.6 257.7,123.5 260.9,119.4 253.9,119.3" fill="#fadb2d"/>
<polygon points="194.2,144.9 200.5,143.4 204,138 197.8,139.4" fill="#b5fa2d"/>
<polygon points="157.2,166.9 162.9,164.7 166.6,158.3 160.8,160.5" fill="#2dfa3b"/>
<polygon points="233.6,128.9 240.4,128.3 243.7,123.8 236.9,124.3" fill="#faee2d"/>
<polygon points="178.4,154.3 184.5,152.4 188.1,146.6 182,148.4" fill="#6dfa2d"/>
<polygon points="216.9,135.5 223.5,134.5 226.9,129.6 220.3,130.5" fill="#f2fa2d"/>
<polygon points="257.7,123.5 264.8,123.7 268,119.7 260.9,119.4" fill="#fad62d"/>
<polygon points="200.5,143.4 206.9,141.9 210.4,136.7 204,138" fill="#c8fa2d"/>
<polygon points="162.9,164.7 168.8,162.5 172.4,156.3 166.6,158.3" fill="#32fa2d"/>
<polygon points="240.4,128.3 247.4,127.9 250.6,123.6 243.7,123.8" fill="#fae72d"/>
<polygon points="184.5,152.4 190.7,150.6 194.2,144.9 188.1,146.6" fill="#86fa2d"/>
<polygon points="223.5,134.5 230.2,133.6 233.6,128.9 226.9,129.6" fill="#f9fa2d"/>
<polygon points="168.8,162.5 174.8,160.4 178.4,154.3 172.4,156.3" fill="#45fa2d"/>
<polygon points="206.9,141.9 213.5,140.6 216.9,135.5 210.4,136.7" fill="#d9fa2d"/>
<polygon points="247.4,127.9 254.4,127.7 257.7,123.5 250.6,123.6" fill="#fae22d"/>
<polygon points="190.7,150.6 197,148.9 200.5,143.4 194.2,144.9" fill="#9ffa2d"/>
<polygon points="230.2,133.6 237.1,132.9 240.4,128.3 233.6,128.9" fill="#faf42d"/>
<polygon points="174.8,160.4 180.9,158.4 184.5,152.4 178.4,154.3" fill="#58fa2d"/>
<polygon points="213.5,140.6 220.1,139.4 223.5,134.5 216.9,135.5" fill="#eafa2d"/>
<polygon points="254.4,127.7 261.6,127.8 264.8,123.7 257.7,123.5" fill="#fadc2d"/>
<polygon points="197,148.9 203.4,147.4 206.9,141.9 200.5,143.4" fill="#b6fa2d"/>
<polygon points="237.1,132.9 244.1,132.3 247.4,127.9 240.4,128.3" fill="#faee2d"/>
<polygon points="180.9,158.4 187.1,156.5 190.7,150.6 184.5,152.4" fill="#6efa2d"/>
<polygon points="220.1,139.4 226.9,138.4 230.2,133.6 223.5,134.5" fill="#f3fa2d"/>
<polygon points="203.4,147.4 210,145.9 213.5,140.6 206.9,141.9" fill="#c9fa2d"/>
<polygon points="244.1,132.3 251.2,132 254.4,127.7 247.4,127.9" fill="#fae72d"/>
<polygon points="187.1,156.5 193.5,154.7 197,148.9 190.7,150.6" fill="#88fa2d"/>
<polygon points="226.9,138.4 233.8,137.5 237.1,132.9 230.2,133.6" fill="#fafa2d"/>
<polygon points="210,145.9 216.7,144.5 220.1,139.4 213.5,140.6" fill="#dbfa2d"/>
<polygon points="251.2,132 258.4,131.8 261.6,127.8 254.4,127.7" fill="#fae22d"/>
<polygon points="193.5,154.7 199.9,152.9 203.4,147.4 197,148.9" fill="#a0fa2d"/>
<polygon points="233.8,137.5 240.8,136.8 244.1,132.3 237.1,132.9" fill="#faf42d"/>
<polygon points="216.7,144.5 223.5,143.3 226.9,138.4 220.1,139.4" fill="#ecfa2d"/>
<polygon points="199.9,152.9 206.5,151.3 210,145.9 203.4,147.4" fill="#b8fa2d"/>
<polygon points="240.8,136.8 248,136.3 251.2,132 244.1,132.3" fill="#faed2d"/>
<polygon points="223.5,143.3 230.4,142.3 233.8,137.5 226.9,138.4" fill="#f4fa2d"/>
<polygon points="206.5,151.3 213.2,149.8 216.7,144.5 210,145.9" fill="#cbfa2d"/>
<polygon points="248,136.3 255.2,135.9 258.4,131.8 251.2,132" fill="#fae72d"/>
<polygon points="230.4,142.3 237.5,141.3 240.8,136.8 233.8,137.5" fill="#faf92d"/>
<polygon points="213.2,149.8 220.1,148.4 223.5,143.3 216.7,144.5" fill="#ddfa2d"/>
<polygon points="237.5,141.3 244.7,140.6 248,136.3 240.8,136.8" fill="#faf32d"/>
<polygon points="220.1,148.4 227.1,147.1 230.4,142.3 223.5,143.3" fill="#edfa2d"/>
<polygon points="244.7,140.6 252,140 255.2,135.9 248,136.3" fill="#faeb2d"/>
<polygon points="227.1,147.1 234.2,145.9 237.5,141.3 230.4,142.3" fill="#f5fa2d"/>
<polygon points="234.2,145.9 241.4,144.9 244.7,140.6 237.5,141.3" fill="#faf72d"/>
<polygon points="241.4,144.9 248.8,144.1 252,140 244.7,140.6" fill="#faf02d"/>
</g>
<g fill="#000">
<circle cx="100.9" cy="206.8" r="1.3"/>
<circle cx="99.7" cy="180.7" r="1.3"/>
<circle cx="98.4" cy="154.5" r="1.3"/>
<circle cx="97.2" cy="128.3" r="1.3"/>
<circle cx="95.9" cy="102.2" r="1.3"/>
<circle cx="94.7" cy="76" r="1.3"/>
<circle cx="102.9" cy="247.8" r="1.3"/>
<circle cx="174.9" cy="266.6" r="1.3"/>
<circle cx="247" cy="285.3" r="1.3"/>
<circle cx="274.6" cy="248.5" r="1.3"/>
<circle cx="302.2" cy="211.7" r="1.3"/>
</g>
<g stroke="#111" fill="none">
<line x1="452" y1="178.3" x2="579.8" y2="142.7" stroke-width="1.0"/>
<line x1="579.8" y1="142.7" x2="661.8" y2="210" stroke-width="1.0"/>
<line x1="450.5" y1="149.5" x2="580.2" y2="115.5" stroke-width="1.0"/>
<line x1="580.2" y1="115.5" x2="663.6" y2="179.9" stroke-width="1.0"/>
<line x1="449" y1="120.6" x2="580.5" y2="88.4" stroke-width="1.0"/>
<line x1="580.5" y1="88.4" x2="665.4" y2="149.8" stroke-width="1.0"/>
<line x1="447.6" y1="91.8" x2="580.9" y2="61.2" stroke-width="1.0"/>
<line x1="580.9" y1="61.2" x2="667.2" y2="119.7" stroke-width="1.0"/>
<line x1="446.1" y1="63" x2="581.2" y2="34.1" stroke-width="1.0"/>
<line x1="581.2" y1="34.1" x2="669" y2="89.6" stroke-width="1.0"/>
<line x1="453.8" y1="214" x2="446.1" y2="63" stroke-width="1.0"/>
<line x1="579.4" y1="176.3" x2="581.2" y2="34.1" stroke-width="1.0"/>
<line x1="659.6" y1="247.3" x2="669" y2="89.6" stroke-width="1.0"/>
<line x1="515.9" y1="160.5" x2="513.7" y2="48.5" stroke-width="1.0"/>
<line x1="620.8" y1="176.3" x2="625.1" y2="61.8" stroke-width="1.0"/>
</g>
<polygon points="453.8,214 579.4,176.3 659.6,247.3 521.7,297" fill="#5e5e5e" stroke="#111" stroke-width="0.8"/>
<g fill="none" stroke-width="1.5" stroke-linecap="butt">
<path d="M492.2 202.6C494.2 204.2 500.9 208.8 504 212C507.1 215.2 509.4 218.7 510.5 222C511.6 225.3 511.6 228.7 510.8 232C510.1 235.3 508.3 238.8 506 242C503.7 245.2 499.8 248.5 497 251C494.2 253.5 490.5 255.8 489.2 256.8" stroke="#eeb014"/>
<path d="M517.3 195C519.9 196.7 528.4 201.2 533 205C537.6 208.8 541.9 213.5 545 218C548.1 222.5 550.6 227.5 551.6 232C552.6 236.5 552.6 240.3 551 245C549.4 249.7 546.3 255.4 542 260C537.7 264.6 530.6 269 525 272.5C519.4 276 511.2 279.4 508.4 280.8" stroke="#a5e61a"/>
<path d="M538 188.8C540.8 190.5 549.9 195.2 555 199C560.1 202.8 564.3 207.3 568.5 211.4C572.7 215.5 576.8 219.3 580 223.7C583.2 228.1 586.1 233.4 587.5 238C588.9 242.6 589.4 246.3 588.5 251C587.6 255.7 585.3 261.1 582 266C578.7 270.9 570.8 277.8 568.5 280.2" stroke="#22d62a"/>
<path d="M553.2 184.2C555.7 185.5 563.1 188.9 568 192C572.9 195.1 578 199 582.8 202.8C587.6 206.6 592.6 210.6 597 215C601.4 219.4 605.5 224 609 229C612.5 234 616 239.6 618 245C620 250.4 620.3 258.6 620.8 261.3" stroke="#1fdc8c"/>
<path d="M568.2 179.7C570.7 181.1 578.2 185.1 583 188C587.8 190.9 592.3 193.8 597.1 197.1C601.9 200.4 607.2 203.9 612 208C616.8 212.1 621.4 216.9 625.6 221.4C629.8 225.9 633.5 229.9 637 235C640.5 240.1 644.9 249.2 646.5 252" stroke="#25c8e8"/>
</g>
<polygon points="453.8,214 579.4,176.3 659.6,247.3 521.7,297" fill="none" stroke="#111" stroke-width="0.8"/>
<g stroke="rgba(0,0,0,0.7)" stroke-width="0.55" stroke-linejoin="round">
<polygon points="573.7,116.7 577.6,118.3 584,122.3 580.1,120.9" fill="#299fe1"/>
<polygon points="567.2,112.6 571.1,114.4 577.6,118.3 573.7,116.7" fill="#1ee3ed"/>
<polygon points="577.6,118.3 581.5,120 588,124 584,122.3" fill="#27ace3"/>
<polygon points="560.8,108.7 564.6,110.7 571.1,114.4 567.2,112.6" fill="#13f9c5"/>
<polygon points="571.1,114.4 575,116.3 581.5,120 577.6,118.3" fill="#1cf0ed"/>
<polygon points="554.2,105 558.1,107.1 564.6,110.7 560.8,108.7" fill="#11fa8b"/>
<polygon points="581.5,120 585.5,122 592,125.7 588,124" fill="#25bbe6"/>
<polygon points="564.6,110.7 568.5,112.7 575,116.3 571.1,114.4" fill="#11fab9"/>
<polygon points="547.7,101.5 551.5,103.7 558.1,107.1 554.2,105" fill="#11fa58"/>
<polygon points="575,116.3 579,118.4 585.5,122 581.5,120" fill="#19f2e3"/>
<polygon points="558.1,107.1 561.9,109.3 568.5,112.7 564.6,110.7" fill="#11fa82"/>
<polygon points="541.1,98.1 544.9,100.5 551.5,103.7 547.7,101.5" fill="#11fa27"/>
<polygon points="585.5,122 589.5,124 596,127.7 592,125.7" fill="#22cae9"/>
<polygon points="568.5,112.7 572.4,114.9 579,118.4 575,116.3" fill="#11faae"/>
<polygon points="551.5,103.7 555.3,106.1 561.9,109.3 558.1,107.1" fill="#11fa50"/>
<polygon points="534.4,94.9 538.2,97.5 544.9,100.5 541.1,98.1" fill="#34fa11"/>
<polygon points="579,118.4 582.9,120.6 589.5,124 585.5,122" fill="#17f4da"/>
<polygon points="561.9,109.3 565.8,111.7 572.4,114.9 568.5,112.7" fill="#11fa79"/>
<polygon points="544.9,100.5 548.7,103 555.3,106.1 551.5,103.7" fill="#11fa20"/>
<polygon points="527.8,91.9 531.5,94.6 538.2,97.5 534.4,94.9" fill="#62fa11"/>
<polygon points="589.5,124 593.5,126.3 600,129.8 596,127.7" fill="#20d7eb"/>
<polygon points="572.4,114.9 576.3,117.3 582.9,120.6 579,118.4" fill="#11faa5"/>
<polygon points="555.3,106.1 559.2,108.6 565.8,111.7 561.9,109.3" fill="#11fa49"/>
<polygon points="538.2,97.5 542,100.2 548.7,103 544.9,100.5" fill="#3afa11"/>
<polygon points="521.1,89.1 524.8,92 531.5,94.6 527.8,91.9" fill="#8ffa11"/>
<polygon points="582.9,120.6 586.9,122.9 593.5,126.3 589.5,124" fill="#15f6d2"/>
<polygon points="565.8,111.7 569.7,114.2 576.3,117.3 572.4,114.9" fill="#11fa72"/>
<polygon points="548.7,103 552.5,105.7 559.2,108.6 555.3,106.1" fill="#11fa1b"/>
<polygon points="531.5,94.6 535.3,97.5 542,100.2 538.2,97.5" fill="#66fa11"/>
<polygon points="593.5,126.3 597.5,128.7 604.1,132 600,129.8" fill="#1ee2ed"/>
<polygon points="514.4,86.5 518.1,89.5 524.8,92 521.1,89.1" fill="#b9fa11"/>
<polygon points="576.3,117.3 580.3,119.8 586.9,122.9 582.9,120.6" fill="#11fa9d"/>
<polygon points="559.2,108.6 563.1,111.2 569.7,114.2 565.8,111.7" fill="#11fa44"/>
<polygon points="542,100.2 545.8,103 552.5,105.7 548.7,103" fill="#3ffa11"/>
<polygon points="524.8,92 528.6,94.9 535.3,97.5 531.5,94.6" fill="#91fa11"/>
<polygon points="507.7,84 511.4,87.2 518.1,89.5 514.4,86.5" fill="#ddfa11"/>
<polygon points="586.9,122.9 590.9,125.5 597.5,128.7 593.5,126.3" fill="#14f7cb"/>
<polygon points="569.7,114.2 573.7,116.8 580.3,119.8 576.3,117.3" fill="#11fa6d"/>
<polygon points="552.5,105.7 556.4,108.5 563.1,111.2 559.2,108.6" fill="#11fa17"/>
<polygon points="535.3,97.5 539.1,100.4 545.8,103 542,100.2" fill="#68fa11"/>
<polygon points="597.5,128.7 601.6,131.2 608.2,134.5 604.1,132" fill="#1debee"/>
<polygon points="518.1,89.5 521.8,92.6 528.6,94.9 524.8,92" fill="#b9fa11"/>
<polygon points="500.9,81.8 504.6,85.1 511.4,87.2 507.7,84" fill="#f4fa11"/>
<polygon points="580.3,119.8 584.3,122.4 590.9,125.5 586.9,122.9" fill="#11fa96"/>
<polygon points="563.1,111.2 567,114 573.7,116.8 569.7,114.2" fill="#11fa3f"/>
<polygon points="545.8,103 549.7,105.9 556.4,108.5 552.5,105.7" fill="#42fa11"/>
<polygon points="528.6,94.9 532.4,98 539.1,100.4 535.3,97.5" fill="#92fa11"/>
<polygon points="590.9,125.5 595,128.2 601.6,131.2 597.5,128.7" fill="#13f9c6"/>
<polygon points="511.4,87.2 515.1,90.4 521.8,92.6 518.1,89.5" fill="#dcfa11"/>
<polygon points="494.2,79.7 497.8,83.2 504.6,85.1 500.9,81.8" fill="#faea11"/>
<polygon points="573.7,116.8 577.6,119.6 584.3,122.4 580.3,119.8" fill="#11fa68"/>
<polygon points="556.4,108.5 560.3,111.4 567,114 563.1,111.2" fill="#11fa14"/>
<polygon points="601.6,131.2 605.7,134 612.3,137.1 608.2,134.5" fill="#1cefee"/>
<polygon points="539.1,100.4 542.9,103.5 549.7,105.9 545.8,103" fill="#6afa11"/>
<polygon points="521.8,92.6 525.6,95.8 532.4,98 528.6,94.9" fill="#b9fa11"/>
<polygon points="504.6,85.1 508.3,88.5 515.1,90.4 511.4,87.2" fill="#f2fa11"/>
<polygon points="584.3,122.4 588.3,125.3 595,128.2 590.9,125.5" fill="#11fa92"/>
<polygon points="487.4,77.8 491,81.4 497.8,83.2 494.2,79.7" fill="#fad011"/>
<polygon points="567,114 570.9,116.9 577.6,119.6 573.7,116.8" fill="#11fa3c"/>
<polygon points="549.7,105.9 553.5,108.9 560.3,111.4 556.4,108.5" fill="#43fa11"/>
<polygon points="532.4,98 536.1,101.2 542.9,103.5 539.1,100.4" fill="#92fa11"/>
<polygon points="595,128.2 599.1,131 605.7,134 601.6,131.2" fill="#12fac2"/>
<polygon points="515.1,90.4 518.8,93.8 525.6,95.8 521.8,92.6" fill="#dbfa11"/>
<polygon points="497.8,83.2 501.5,86.7 508.3,88.5 504.6,85.1" fill="#faed11"/>
<polygon points="480.6,76.1 484.2,79.9 491,81.4 487.4,77.8" fill="#fab811"/>
<polygon points="577.6,119.6 581.6,122.5 588.3,125.3 584.3,122.4" fill="#11fa65"/>
<polygon points="560.3,111.4 564.2,114.4 570.9,116.9 567,114" fill="#11fa12"/>
<polygon points="605.7,134 609.8,136.9 616.4,139.9 612.3,137.1" fill="#1bf0eb"/>
<polygon points="542.9,103.5 546.8,106.6 553.5,108.9 549.7,105.9" fill="#6afa11"/>
<polygon points="525.6,95.8 529.4,99.2 536.1,101.2 532.4,98" fill="#b7fa11"/>
<polygon points="588.3,125.3 592.4,128.2 599.1,131 595,128.2" fill="#11fa8f"/>
<polygon points="508.3,88.5 512,92 518.8,93.8 515.1,90.4" fill="#f0fa11"/>
<polygon points="491,81.4 494.6,85.1 501.5,86.7 497.8,83.2" fill="#fad411"/>
<polygon points="473.8,74.6 477.4,78.5 484.2,79.9 480.6,76.1" fill="#fa9d11"/>
<polygon points="570.9,116.9 574.9,120 581.6,122.5 577.6,119.6" fill="#11fa3a"/>
<polygon points="553.5,108.9 557.4,112.1 564.2,114.4 560.3,111.4" fill="#44fa11"/>
<polygon points="599.1,131 603.1,134 609.8,136.9 605.7,134" fill="#11fabf"/>
<polygon points="536.1,101.2 540,104.6 546.8,106.6 542.9,103.5" fill="#90fa11"/>
<polygon points="518.8,93.8 522.5,97.3 529.4,99.2 525.6,95.8" fill="#d8fa11"/>
<polygon points="501.5,86.7 505.2,90.4 512,92 508.3,88.5" fill="#faf011"/>
<polygon points="581.6,122.5 585.6,125.6 592.4,128.2 588.3,125.3" fill="#11fa63"/>
<polygon points="484.2,79.9 487.8,83.7 494.6,85.1 491,81.4" fill="#fabd11"/>
<polygon points="467,73.4 470.5,77.4 477.4,78.5 473.8,74.6" fill="#fa8411"/>
<polygon points="564.2,114.4 568.1,117.6 574.9,120 570.9,116.9" fill="#11fa12"/>
<polygon points="609.8,136.9 614,140 620.6,142.9 616.4,139.9" fill="#1bf1e9"/>
<polygon points="546.8,106.6 550.6,110 557.4,112.1 553.5,108.9" fill="#69fa11"/>
<polygon points="529.4,99.2 533.2,102.7 540,104.6 536.1,101.2" fill="#b5fa11"/>
<polygon points="592.4,128.2 596.4,131.4 603.1,134 599.1,131" fill="#11fa8e"/>
<polygon points="512,92 515.7,95.6 522.5,97.3 518.8,93.8" fill="#eefa11"/>
<polygon points="494.6,85.1 498.3,88.9 505.2,90.4 501.5,86.7" fill="#fad811"/>
<polygon points="477.4,78.5 481,82.5 487.8,83.7 484.2,79.9" fill="#faa411"/>
<polygon points="460.2,72.3 463.7,76.4 470.5,77.4 467,73.4" fill="#fa6d11"/>
<polygon points="574.9,120 578.9,123.2 585.6,125.6 581.6,122.5" fill="#11fa3a"/>
<polygon points="557.4,112.1 561.3,115.4 568.1,117.6 564.2,114.4" fill="#43fa11"/>
<polygon points="603.1,134 607.3,137.3 614,140 609.8,136.9" fill="#11fabe"/>
<polygon points="540,104.6 543.8,108 550.6,110 546.8,106.6" fill="#8efa11"/>
<polygon points="522.5,97.3 526.3,100.9 533.2,102.7 529.4,99.2" fill="#d5fa11"/>
<polygon points="585.6,125.6 589.7,128.9 596.4,131.4 592.4,128.2" fill="#11fa63"/>
<polygon points="505.2,90.4 508.9,94.2 515.7,95.6 512,92" fill="#faf311"/>
<polygon points="487.8,83.7 491.4,87.7 498.3,88.9 494.6,85.1" fill="#fac211"/>
<polygon points="453.3,71.4 456.8,75.7 463.7,76.4 460.2,72.3" fill="#fa5911"/>
<polygon points="470.5,77.4 474.1,81.5 481,82.5 477.4,78.5" fill="#fa8c11"/>
<polygon points="568.1,117.6 572.1,121 578.9,123.2 574.9,120" fill="#11fa12"/>
<polygon points="614,140 618.1,143.3 624.8,146.2 620.6,142.9" fill="#1bf1e9"/>
<polygon points="550.6,110 554.5,113.4 561.3,115.4 557.4,112.1" fill="#67fa11"/>
<polygon points="596.4,131.4 600.5,134.7 607.3,137.3 603.1,134" fill="#11fa8e"/>
<polygon points="533.2,102.7 537,106.3 543.8,108 540,104.6" fill="#b2fa11"/>
<polygon points="515.7,95.6 519.5,99.4 526.3,100.9 522.5,97.3" fill="#ebfa11"/>
<polygon points="498.3,88.9 502,92.9 508.9,94.2 505.2,90.4" fill="#fade11"/>
<polygon points="578.9,123.2 582.9,126.6 589.7,128.9 585.6,125.6" fill="#11fa3b"/>
<polygon points="481,82.5 484.6,86.6 491.4,87.7 487.8,83.7" fill="#faac11"/>
<polygon points="446.5,70.7 450,75.1 456.8,75.7 453.3,71.4" fill="#fa4611"/>
<polygon points="463.7,76.4 467.2,80.7 474.1,81.5 470.5,77.4" fill="#fa7711"/>
<polygon points="561.3,115.4 565.3,118.9 572.1,121 568.1,117.6" fill="#42fa11"/>
<polygon points="607.3,137.3 611.4,140.7 618.1,143.3 614,140" fill="#11fabe"/>
<polygon points="543.8,108 547.7,111.6 554.5,113.4 550.6,110" fill="#8bfa11"/>
<polygon points="526.3,100.9 530.1,104.7 537,106.3 533.2,102.7" fill="#d1fa11"/>
<polygon points="589.7,128.9 593.8,132.3 600.5,134.7 596.4,131.4" fill="#11fa64"/>
<polygon points="508.9,94.2 512.6,98.1 519.5,99.4 515.7,95.6" fill="#faf711"/>
<polygon points="491.4,87.7 495.1,91.8 502,92.9 498.3,88.9" fill="#fac911"/>
<polygon points="474.1,81.5 477.7,85.8 484.6,86.6 481,82.5" fill="#fa9511"/>
<polygon points="456.8,75.7 460.4,80.1 467.2,80.7 463.7,76.4" fill="#fa6311"/>
<polygon points="572.1,121 576.1,124.5 582.9,126.6 578.9,123.2" fill="#11fa14"/>
<polygon points="618.1,143.3 622.3,146.8 629,149.6 624.8,146.2" fill="#1bf0ea"/>
<polygon points="554.5,113.4 558.5,117 565.3,118.9 561.3,115.4" fill="#64fa11"/>
<polygon points="600.5,134.7 604.6,138.2 611.4,140.7 607.3,137.3" fill="#11fa8f"/>
<polygon points="537,106.3 540.8,110 547.7,111.6 543.8,108" fill="#adfa11"/>
<polygon points="519.5,99.4 523.2,103.3 530.1,104.7 526.3,100.9" fill="#e7fa11"/>
<polygon points="582.9,126.6 587,130.1 593.8,132.3 589.7,128.9" fill="#11fa3d"/>
<polygon points="502,92.9 505.7,96.9 512.6,98.1 508.9,94.2" fill="#fae411"/>
<polygon points="484.6,86.6 488.2,90.8 495.1,91.8 491.4,87.7" fill="#fab411"/>
<polygon points="450,75.1 453.5,79.7 460.4,80.1 456.8,75.7" fill="#fa5111"/>
<polygon points="467.2,80.7 470.8,85.1 477.7,85.8 474.1,81.5" fill="#fa8111"/>
<polygon points="565.3,118.9 569.3,122.5 576.1,124.5 572.1,121" fill="#3efa11"/>
<polygon points="611.4,140.7 615.6,144.3 622.3,146.8 618.1,143.3" fill="#12fac1"/>
<polygon points="547.7,111.6 551.6,115.3 558.5,117 554.5,113.4" fill="#87fa11"/>
<polygon points="593.8,132.3 597.9,135.9 604.6,138.2 600.5,134.7" fill="#11fa67"/>
<polygon points="530.1,104.7 533.9,108.6 540.8,110 537,106.3" fill="#cbfa11"/>
<polygon points="512.6,98.1 516.3,102.1 523.2,103.3 519.5,99.4" fill="#f8fa11"/>
<polygon points="495.1,91.8 498.8,96 505.7,96.9 502,92.9" fill="#fad011"/>
<polygon points="622.3,146.8 626.5,150.6 633.2,153.3 629,149.6" fill="#1cf0ed"/>
<polygon points="576.1,124.5 580.1,128.1 587,130.1 582.9,126.6" fill="#11fa17"/>
<polygon points="477.7,85.8 481.3,90.1 488.2,90.8 484.6,86.6" fill="#fa9f11"/>
<polygon points="460.4,80.1 463.9,84.6 470.8,85.1 467.2,80.7" fill="#fa6e11"/>
<polygon points="558.5,117 562.4,120.8 569.3,122.5 565.3,118.9" fill="#60fa11"/>
<polygon points="604.6,138.2 608.8,141.9 615.6,144.3 611.4,140.7" fill="#11fa92"/>
<polygon points="540.8,110 544.7,113.9 551.6,115.3 547.7,111.6" fill="#a8fa11"/>
<polygon points="523.2,103.3 527,107.3 533.9,108.6 530.1,104.7" fill="#e3fa11"/>
<polygon points="587,130.1 591,133.8 597.9,135.9 593.8,132.3" fill="#11fa40"/>
<polygon points="505.7,96.9 509.4,101.1 516.3,102.1 512.6,98.1" fill="#faea11"/>
<polygon points="488.2,90.8 491.9,95.2 498.8,96 495.1,91.8" fill="#fabd11"/>
<polygon points="470.8,85.1 474.4,89.6 481.3,90.1 477.7,85.8" fill="#fa8b11"/>
<polygon points="453.5,79.7 457,84.4 463.9,84.6 460.4,80.1" fill="#fa5e11"/>
<polygon points="569.3,122.5 573.3,126.3 580.1,128.1 576.1,124.5" fill="#39fa11"/>
<polygon points="615.6,144.3 619.8,148.1 626.5,150.6 622.3,146.8" fill="#13f9c5"/>
<polygon points="551.6,115.3 555.5,119.2 562.4,120.8 558.5,117" fill="#82fa11"/>
<polygon points="597.9,135.9 602,139.7 608.8,141.9 604.6,138.2" fill="#11fa6a"/>
<polygon points="533.9,108.6 537.8,112.6 544.7,113.9 540.8,110" fill="#c5fa11"/>
<polygon points="516.3,102.1 520.1,106.3 527,107.3 523.2,103.3" fill="#f3fa11"/>
<polygon points="626.5,150.6 630.7,154.5 637.5,157.1 633.2,153.3" fill="#1dedef"/>
<polygon points="580.1,128.1 584.2,131.9 591,133.8 587,130.1" fill="#11fa1b"/>
<polygon points="498.8,96 502.5,100.3 509.4,101.1 505.7,96.9" fill="#fad711"/>
<polygon points="481.3,90.1 485,94.6 491.9,95.2 488.2,90.8" fill="#faaa11"/>
<polygon points="463.9,84.6 467.5,89.3 474.4,89.6 470.8,85.1" fill="#fa7a11"/>
<polygon points="562.4,120.8 566.4,124.7 573.3,126.3 569.3,122.5" fill="#5bfa11"/>
<polygon points="608.8,141.9 612.9,145.8 619.8,148.1 615.6,144.3" fill="#11fa97"/>
<polygon points="544.7,113.9 548.6,117.9 555.5,119.2 551.6,115.3" fill="#a1fa11"/>
<polygon points="591,133.8 595.1,137.7 602,139.7 597.9,135.9" fill="#11fa45"/>
<polygon points="527,107.3 530.9,111.5 537.8,112.6 533.9,108.6" fill="#defa11"/>
<polygon points="509.4,101.1 513.2,105.4 520.1,106.3 516.3,102.1" fill="#faf111"/>
<polygon points="491.9,95.2 495.6,99.7 502.5,100.3 498.8,96" fill="#fac611"/>
<polygon points="619.8,148.1 624,152.1 630.7,154.5 626.5,150.6" fill="#14f8ca"/>
<polygon points="573.3,126.3 577.3,130.2 584.2,131.9 580.1,128.1" fill="#32fa11"/>
<polygon points="474.4,89.6 478,94.3 485,94.6 481.3,90.1" fill="#fa9711"/>
<polygon points="457,84.4 460.6,89.2 467.5,89.3 463.9,84.6" fill="#fa6b11"/>
<polygon points="555.5,119.2 559.4,123.3 566.4,124.7 562.4,120.8" fill="#7bfa11"/>
<polygon points="602,139.7 606.1,143.7 612.9,145.8 608.8,141.9" fill="#11fa70"/>
<polygon points="537.8,112.6 541.7,116.7 548.6,117.9 544.7,113.9" fill="#befa11"/>
<polygon points="630.7,154.5 635,158.7 641.8,161.2 637.5,157.1" fill="#1ee4ed"/>
<polygon points="520.1,106.3 523.9,110.6 530.9,111.5 527,107.3" fill="#eefa11"/>
<polygon points="584.2,131.9 588.2,135.9 595.1,137.7 591,133.8" fill="#11fa21"/>
<polygon points="502.5,100.3 506.2,104.8 513.2,105.4 509.4,101.1" fill="#fae011"/>
<polygon points="485,94.6 488.6,99.3 495.6,99.7 491.9,95.2" fill="#fab511"/>
<polygon points="467.5,89.3 471.1,94.1 478,94.3 474.4,89.6" fill="#fa8711"/>
<polygon points="566.4,124.7 570.4,128.7 577.3,130.2 573.3,126.3" fill="#55fa11"/>
<polygon points="612.9,145.8 617.1,149.8 624,152.1 619.8,148.1" fill="#11fa9d"/>
<polygon points="548.6,117.9 552.5,122 559.4,123.3 555.5,119.2" fill="#99fa11"/>
<polygon points="595.1,137.7 599.2,141.8 606.1,143.7 602,139.7" fill="#11fa4b"/>
<polygon points="530.9,111.5 534.7,115.8 541.7,116.7 537.8,112.6" fill="#d7fa11"/>
<polygon points="513.2,105.4 517,109.9 523.9,110.6 520.1,106.3" fill="#faf711"/>
<polygon points="624,152.1 628.2,156.3 635,158.7 630.7,154.5" fill="#15f6d1"/>
<polygon points="577.3,130.2 581.3,134.3 588.2,135.9 584.2,131.9" fill="#29fa11"/>
<polygon points="495.6,99.7 499.3,104.3 506.2,104.8 502.5,100.3" fill="#facf11"/>
<polygon points="478,94.3 481.7,99.1 488.6,99.3 485,94.6" fill="#faa411"/>
<polygon points="460.6,89.2 464.2,94.2 471.1,94.1 467.5,89.3" fill="#fa7811"/>
<polygon points="559.4,123.3 563.4,127.4 570.4,128.7 566.4,124.7" fill="#73fa11"/>
<polygon points="606.1,143.7 610.3,147.8 617.1,149.8 612.9,145.8" fill="#11fa77"/>
<polygon points="541.7,116.7 545.5,121 552.5,122 548.6,117.9" fill="#b6fa11"/>
<polygon points="635,158.7 639.3,163 646,165.6 641.8,161.2" fill="#20d9eb"/>
<polygon points="588.2,135.9 592.3,140.1 599.2,141.8 595.1,137.7" fill="#11fa28"/>
<polygon points="523.9,110.6 527.7,115 534.7,115.8 530.9,111.5" fill="#e8fa11"/>
<polygon points="506.2,104.8 510,109.4 517,109.9 513.2,105.4" fill="#fae911"/>
<polygon points="488.6,99.3 492.3,104.1 499.3,104.3 495.6,99.7" fill="#fac011"/>
<polygon points="617.1,149.8 621.3,154.1 628.2,156.3 624,152.1" fill="#11faa6"/>
<polygon points="570.4,128.7 574.4,132.9 581.3,134.3 577.3,130.2" fill="#4efa11"/>
<polygon points="471.1,94.1 474.7,99.1 481.7,99.1 478,94.3" fill="#fa9411"/>
<polygon points="552.5,122 556.4,126.3 563.4,127.4 559.4,123.3" fill="#91fa11"/>
<polygon points="599.2,141.8 603.4,146 610.3,147.8 606.1,143.7" fill="#11fa52"/>
<polygon points="534.7,115.8 538.6,120.2 545.5,121 541.7,116.7" fill="#cefa11"/>
<polygon points="628.2,156.3 632.4,160.7 639.3,163 635,158.7" fill="#17f4da"/>
<polygon points="517,109.9 520.8,114.4 527.7,115 523.9,110.6" fill="#f6fa11"/>
<polygon points="581.3,134.3 585.4,138.6 592.3,140.1 588.2,135.9" fill="#1ffa11"/>
<polygon points="499.3,104.3 503,109.1 510,109.4 506.2,104.8" fill="#fad911"/>
<polygon points="481.7,99.1 485.3,104 492.3,104.1 488.6,99.3" fill="#fab111"/>
<polygon points="464.2,94.2 467.8,99.3 474.7,99.1 471.1,94.1" fill="#fa8711"/>
<polygon points="563.4,127.4 567.4,131.8 574.4,132.9 570.4,128.7" fill="#6afa11"/>
<polygon points="610.3,147.8 614.4,152.2 621.3,154.1 617.1,149.8" fill="#11fa7f"/>
<polygon points="639.3,163 643.5,167.7 650.3,170.2 646,165.6" fill="#22cbe9"/>
<polygon points="545.5,121 549.5,125.4 556.4,126.3 552.5,122" fill="#acfa11"/>
<polygon points="592.3,140.1 596.4,144.4 603.4,146 599.2,141.8" fill="#11fa30"/>
<polygon points="527.7,115 531.6,119.6 538.6,120.2 534.7,115.8" fill="#e1fa11"/>
<polygon points="510,109.4 513.8,114.1 520.8,114.4 517,109.9" fill="#faf111"/>
<polygon points="621.3,154.1 625.5,158.6 632.4,160.7 628.2,156.3" fill="#11fab1"/>
<polygon points="574.4,132.9 578.4,137.3 585.4,138.6 581.3,134.3" fill="#45fa11"/>
<polygon points="492.3,104.1 496,109 503,109.1 499.3,104.3" fill="#facb11"/>
<polygon points="474.7,99.1 478.4,104.2 485.3,104 481.7,99.1" fill="#faa311"/>
<polygon points="556.4,126.3 560.4,130.8 567.4,131.8 563.4,127.4" fill="#87fa11"/>
<polygon points="603.4,146 607.5,150.5 614.4,152.2 610.3,147.8" fill="#11fa5b"/>
<polygon points="538.6,120.2 542.5,124.8 549.5,125.4 545.5,121" fill="#c4fa11"/>
<polygon points="632.4,160.7 636.7,165.4 643.5,167.7 639.3,163" fill="#19f2e4"/>
<polygon points="585.4,138.6 589.4,143 596.4,144.4 592.3,140.1" fill="#13fa11"/>
<polygon points="520.8,114.4 524.6,119.2 531.6,119.6 527.7,115" fill="#eefa11"/>
<polygon points="503,109.1 506.8,113.9 513.8,114.1 510,109.4" fill="#fae411"/>
<polygon points="485.3,104 489,109.1 496,109 492.3,104.1" fill="#fabe11"/>
<polygon points="567.4,131.8 571.4,136.3 578.4,137.3 574.4,132.9" fill="#60fa11"/>
<polygon points="614.4,152.2 618.6,156.7 625.5,158.6 621.3,154.1" fill="#11fa89"/>
<polygon points="467.8,99.3 471.4,104.5 478.4,104.2 474.7,99.1" fill="#fa9711"/>
<polygon points="643.5,167.7 647.8,172.5 654.6,175 650.3,170.2" fill="#25bbe6"/>
<polygon points="549.5,125.4 553.4,130 560.4,130.8 556.4,126.3" fill="#a1fa11"/>
<polygon points="596.4,144.4 600.5,148.9 607.5,150.5 603.4,146" fill="#11fa3a"/>
<polygon points="531.6,119.6 535.4,124.3 542.5,124.8 538.6,120.2" fill="#d9fa11"/>
<polygon points="625.5,158.6 629.8,163.3 636.7,165.4 632.4,160.7" fill="#11fabe"/>
<polygon points="513.8,114.1 517.6,119 524.6,119.2 520.8,114.4" fill="#fafa11"/>
<polygon points="578.4,137.3 582.5,141.9 589.4,143 585.4,138.6" fill="#3afa11"/>
<polygon points="496,109 499.7,114 506.8,113.9 503,109.1" fill="#fad711"/>
<polygon points="478.4,104.2 482,109.4 489,109.1 485.3,104" fill="#fab311"/>
<polygon points="560.4,130.8 564.4,135.4 571.4,136.3 567.4,131.8" fill="#7cfa11"/>
<polygon points="607.5,150.5 611.7,155.1 618.6,156.7 614.4,152.2" fill="#11fa66"/>
<polygon points="542.5,124.8 546.4,129.5 553.4,130 549.5,125.4" fill="#b8fa11"/>
<polygon points="636.7,165.4 640.9,170.3 647.8,172.5 643.5,167.7" fill="#1cefee"/>
<polygon points="589.4,143 593.5,147.7 600.5,148.9 596.4,144.4" fill="#11fa1b"/>
<polygon points="524.6,119.2 528.4,124 535.4,124.3 531.6,119.6" fill="#e6fa11"/>
<polygon points="506.8,113.9 510.5,119 517.6,119 513.8,114.1" fill="#faef11"/>
<polygon points="618.6,156.7 622.8,161.5 629.8,163.3 625.5,158.6" fill="#11fa95"/>
<polygon points="571.4,136.3 575.4,140.9 582.5,141.9 578.4,137.3" fill="#56fa11"/>
<polygon points="489,109.1 492.7,114.3 499.7,114 496,109" fill="#facb11"/>
<polygon points="471.4,104.5 475,109.9 482,109.4 478.4,104.2" fill="#faa711"/>
<polygon points="647.8,172.5 652.1,177.7 659,180.1 654.6,175" fill="#28aae2"/>
<polygon points="553.4,130 557.4,134.8 564.4,135.4 560.4,130.8" fill="#95fa11"/>
<polygon points="600.5,148.9 604.7,153.7 611.7,155.1 607.5,150.5" fill="#11fa45"/>
<polygon points="535.4,124.3 539.3,129.2 546.4,129.5 542.5,124.8" fill="#ccfa11"/>
<polygon points="629.8,163.3 634,168.3 640.9,170.3 636.7,165.4" fill="#14f8cb"/>
<polygon points="517.6,119 521.4,124 528.4,124 524.6,119.2" fill="#f1fa11"/>
<polygon points="582.5,141.9 586.5,146.6 593.5,147.7 589.4,143" fill="#2bfa11"/>
<polygon points="499.7,114 503.5,119.2 510.5,119 506.8,113.9" fill="#fae311"/>
<polygon points="482,109.4 485.7,114.8 492.7,114.3 489,109.1" fill="#fac111"/>
<polygon points="564.4,135.4 568.4,140.2 575.4,140.9 571.4,136.3" fill="#6ffa11"/>
<polygon points="611.7,155.1 615.9,159.9 622.8,161.5 618.6,156.7" fill="#11fa72"/>
<polygon points="640.9,170.3 645.2,175.4 652.1,177.7 647.8,172.5" fill="#1fdeec"/>
<polygon points="546.4,129.5 550.3,134.4 557.4,134.8 553.4,130" fill="#abfa11"/>
<polygon points="593.5,147.7 597.7,152.5 604.7,153.7 600.5,148.9" fill="#11fa27"/>
<polygon points="528.4,124 532.3,129.1 539.3,129.2 535.4,124.3" fill="#ddfa11"/>
<polygon points="622.8,161.5 627.1,166.5 634,168.3 629.8,163.3" fill="#11faa3"/>
<polygon points="510.5,119 514.3,124.2 521.4,124 517.6,119" fill="#faf911"/>
<polygon points="575.4,140.9 579.5,145.8 586.5,146.6 582.5,141.9" fill="#4afa11"/>
<polygon points="492.7,114.3 496.5,119.7 503.5,119.2 499.7,114" fill="#fad911"/>
<polygon points="652.1,177.7 656.4,183.1 663.3,185.5 659,180.1" fill="#299ce1"/>
<polygon points="475,109.9 478.7,115.5 485.7,114.8 482,109.4" fill="#fab911"/>
<polygon points="557.4,134.8 561.3,139.7 568.4,140.2 564.4,135.4" fill="#87fa11"/>
<polygon points="604.7,153.7 608.8,158.6 615.9,159.9 611.7,155.1" fill="#11fa52"/>
<polygon points="539.3,129.2 543.2,134.2 550.3,134.4 546.4,129.5" fill="#bffa11"/>
<polygon points="634,168.3 638.3,173.5 645.2,175.4 640.9,170.3" fill="#17f4d9"/>
<polygon points="586.5,146.6 590.6,151.5 597.7,152.5 593.5,147.7" fill="#1afa11"/>
<polygon points="521.4,124 525.2,129.2 532.3,129.1 528.4,124" fill="#e8fa11"/>
<polygon points="503.5,119.2 507.3,124.6 514.3,124.2 510.5,119" fill="#faf011"/>
<polygon points="615.9,159.9 620.1,165 627.1,166.5 622.8,161.5" fill="#11fa80"/>
<polygon points="568.4,140.2 572.4,145.2 579.5,145.8 575.4,140.9" fill="#62fa11"/>
<polygon points="485.7,114.8 489.4,120.3 496.5,119.7 492.7,114.3" fill="#fad011"/>
<polygon points="645.2,175.4 649.5,180.8 656.4,183.1 652.1,177.7" fill="#23c8e8"/>
<polygon points="550.3,134.4 554.3,139.4 561.3,139.7 557.4,134.8" fill="#9dfa11"/>
<polygon points="597.7,152.5 601.8,157.5 608.8,158.6 604.7,153.7" fill="#11fa34"/>
<polygon points="532.3,129.1 536.2,134.2 543.2,134.2 539.3,129.2" fill="#d0fa11"/>
<polygon points="627.1,166.5 631.3,171.7 638.3,173.5 634,168.3" fill="#11fab4"/>
<polygon points="514.3,124.2 518.1,129.5 525.2,129.2 521.4,124" fill="#f1fa11"/>
<polygon points="579.5,145.8 583.6,150.8 590.6,151.5 586.5,146.6" fill="#3cfa11"/>
<polygon points="496.5,119.7 500.2,125.2 507.3,124.6 503.5,119.2" fill="#fae711"/>
<polygon points="478.7,115.5 482.4,121.2 489.4,120.3 485.7,114.8" fill="#fac811"/>
<polygon points="561.3,139.7 565.3,144.8 572.4,145.2 568.4,140.2" fill="#79fa11"/>
<polygon points="608.8,158.6 613,163.7 620.1,165 615.9,159.9" fill="#11fa60"/>
<polygon points="638.3,173.5 642.6,178.9 649.5,180.8 645.2,175.4" fill="#1af1e8"/>
<polygon points="543.2,134.2 547.2,139.4 554.3,139.4 550.3,134.4" fill="#b1fa11"/>
<polygon points="590.6,151.5 594.7,156.6 601.8,157.5 597.7,152.5" fill="#11fa19"/>
<polygon points="525.2,129.2 529.1,134.5 536.2,134.2 532.3,129.1" fill="#defa11"/>
<polygon points="507.3,124.6 511,130.1 518.1,129.5 514.3,124.2" fill="#f9fa11"/>
<polygon points="620.1,165 624.3,170.3 631.3,171.7 627.1,166.5" fill="#11fa8f"/>
<polygon points="572.4,145.2 576.5,150.3 583.6,150.8 579.5,145.8" fill="#54fa11"/>
<polygon points="489.4,120.3 493.1,126 500.2,125.2 496.5,119.7" fill="#fadf11"/>
<polygon points="554.3,139.4 558.2,144.6 565.3,144.8 561.3,139.7" fill="#8efa11"/>
<polygon points="601.8,157.5 606,162.7 613,163.7 608.8,158.6" fill="#11fa43"/>
<polygon points="536.2,134.2 540.1,139.6 547.2,139.4 543.2,134.2" fill="#c1fa11"/>
<polygon points="631.3,171.7 635.6,177.2 642.6,178.9 638.3,173.5" fill="#13f9c6"/>
<polygon points="583.6,150.8 587.6,156 594.7,156.6 590.6,151.5" fill="#29fa11"/>
<polygon points="518.1,129.5 522,135 529.1,134.5 525.2,129.2" fill="#e6fa11"/>
<polygon points="500.2,125.2 504,130.9 511,130.1 507.3,124.6" fill="#faf411"/>
<polygon points="613,163.7 617.2,169 624.3,170.3 620.1,165" fill="#11fa70"/>
<polygon points="565.3,144.8 569.3,150 576.5,150.3 572.4,145.2" fill="#69fa11"/>
<polygon points="482.4,121.2 486.1,127.1 493.1,126 489.4,120.3" fill="#fad911"/>
<polygon points="547.2,139.4 551.1,144.7 558.2,144.6 554.3,139.4" fill="#a0fa11"/>
<polygon points="594.7,156.6 598.9,161.9 606,162.7 601.8,157.5" fill="#11fa28"/>
<polygon points="529.1,134.5 532.9,140 540.1,139.6 536.2,134.2" fill="#cffa11"/>
<polygon points="624.3,170.3 628.5,175.7 635.6,177.2 631.3,171.7" fill="#11faa1"/>
<polygon points="511,130.1 514.9,135.7 522,135 518.1,129.5" fill="#edfa11"/>
<polygon points="576.5,150.3 580.5,155.6 587.6,156 583.6,150.8" fill="#45fa11"/>
<polygon points="493.1,126 496.9,131.9 504,130.9 500.2,125.2" fill="#faef11"/>
<polygon points="558.2,144.6 562.2,150 569.3,150 565.3,144.8" fill="#7dfa11"/>
<polygon points="606,162.7 610.1,168.1 617.2,169 613,163.7" fill="#11fa53"/>
<polygon points="540.1,139.6 544,145.1 551.1,144.7 547.2,139.4" fill="#b0fa11"/>
<polygon points="587.6,156 591.7,161.4 598.9,161.9 594.7,156.6" fill="#14fa11"/>
<polygon points="522,135 525.8,140.7 532.9,140 529.1,134.5" fill="#dbfa11"/>
<polygon points="504,130.9 507.7,136.7 514.9,135.7 511,130.1" fill="#f3fa11"/>
<polygon points="617.2,169 621.4,174.6 628.5,175.7 624.3,170.3" fill="#11fa81"/>
<polygon points="569.3,150 573.4,155.5 580.5,155.6 576.5,150.3" fill="#59fa11"/>
<polygon points="486.1,127.1 489.8,133.1 496.9,131.9 493.1,126" fill="#faea11"/>
<polygon points="551.1,144.7 555.1,150.3 562.2,150 558.2,144.6" fill="#8efa11"/>
<polygon points="598.9,161.9 603,167.4 610.1,168.1 606,162.7" fill="#11fa39"/>
<polygon points="532.9,140 536.8,145.7 544,145.1 540.1,139.6" fill="#bdfa11"/>
<polygon points="580.5,155.6 584.6,161.1 591.7,161.4 587.6,156" fill="#31fa11"/>
<polygon points="514.9,135.7 518.7,141.6 525.8,140.7 522,135" fill="#e1fa11"/>
<polygon points="496.9,131.9 500.6,137.9 507.7,136.7 504,130.9" fill="#f8fa11"/>
<polygon points="610.1,168.1 614.3,173.7 621.4,174.6 617.2,169" fill="#11fa65"/>
<polygon points="562.2,150 566.2,155.6 573.4,155.5 569.3,150" fill="#6bfa11"/>
<polygon points="544,145.1 547.9,150.7 555.1,150.3 551.1,144.7" fill="#9dfa11"/>
<polygon points="591.7,161.4 595.9,166.9 603,167.4 598.9,161.9" fill="#11fa21"/>
<polygon points="525.8,140.7 529.7,146.5 536.8,145.7 532.9,140" fill="#c8fa11"/>
<polygon points="507.7,136.7 511.6,142.7 518.7,141.6 514.9,135.7" fill="#e6fa11"/>
<polygon points="573.4,155.5 577.4,161.1 584.6,161.1 580.5,155.6" fill="#48fa11"/>
<polygon points="489.8,133.1 493.5,139.3 500.6,137.9 496.9,131.9" fill="#faf911"/>
<polygon points="555.1,150.3 559.1,156 566.2,155.6 562.2,150" fill="#7bfa11"/>
<polygon points="603,167.4 607.2,173.1 614.3,173.7 610.1,168.1" fill="#11fa4b"/>
<polygon points="536.8,145.7 540.7,151.5 547.9,150.7 544,145.1" fill="#aafa11"/>
<polygon points="584.6,161.1 588.7,166.8 595.9,166.9 591.7,161.4" fill="#19fa11"/>
<polygon points="518.7,141.6 522.5,147.6 529.7,146.5 525.8,140.7" fill="#d1fa11"/>
<polygon points="500.6,137.9 504.4,144.1 511.6,142.7 507.7,136.7" fill="#eafa11"/>
<polygon points="566.2,155.6 570.3,161.3 577.4,161.1 573.4,155.5" fill="#59fa11"/>
<polygon points="547.9,150.7 551.9,156.6 559.1,156 555.1,150.3" fill="#89fa11"/>
<polygon points="595.9,166.9 600,172.7 607.2,173.1 603,167.4" fill="#11fa34"/>
<polygon points="529.7,146.5 533.6,152.5 540.7,151.5 536.8,145.7" fill="#b5fa11"/>
<polygon points="577.4,161.1 581.5,166.9 588.7,166.8 584.6,161.1" fill="#32fa11"/>
<polygon points="511.6,142.7 515.4,148.9 522.5,147.6 518.7,141.6" fill="#d7fa11"/>
<polygon points="493.5,139.3 497.3,145.7 504.4,144.1 500.6,137.9" fill="#ecfa11"/>
<polygon points="559.1,156 563.1,161.8 570.3,161.3 566.2,155.6" fill="#67fa11"/>
<polygon points="540.7,151.5 544.7,157.5 551.9,156.6 547.9,150.7" fill="#95fa11"/>
<polygon points="588.7,166.8 592.8,172.6 600,172.7 595.9,166.9" fill="#11fa1f"/>
<polygon points="522.5,147.6 526.4,153.7 533.6,152.5 529.7,146.5" fill="#bcfa11"/>
<polygon points="504.4,144.1 508.2,150.5 515.4,148.9 511.6,142.7" fill="#dcfa11"/>
<polygon points="570.3,161.3 574.3,167.2 581.5,166.9 577.4,161.1" fill="#46fa11"/>
<polygon points="551.9,156.6 555.8,162.6 563.1,161.8 559.1,156" fill="#74fa11"/>
<polygon points="533.6,152.5 537.5,158.6 544.7,157.5 540.7,151.5" fill="#9efa11"/>
<polygon points="581.5,166.9 585.6,172.9 592.8,172.6 588.7,166.8" fill="#18fa11"/>
<polygon points="515.4,148.9 519.2,155.2 526.4,153.7 522.5,147.6" fill="#c1fa11"/>
<polygon points="497.3,145.7 501.1,152.3 508.2,150.5 504.4,144.1" fill="#ddfa11"/>
<polygon points="563.1,161.8 567.1,167.9 574.3,167.2 570.3,161.3" fill="#53fa11"/>
<polygon points="544.7,157.5 548.6,163.7 555.8,162.6 551.9,156.6" fill="#7ffa11"/>
<polygon points="526.4,153.7 530.3,160.1 537.5,158.6 533.6,152.5" fill="#a5fa11"/>
<polygon points="574.3,167.2 578.4,173.4 585.6,172.9 581.5,166.9" fill="#2dfa11"/>
<polygon points="508.2,150.5 512,157 519.2,155.2 515.4,148.9" fill="#c5fa11"/>
<polygon points="555.8,162.6 559.8,168.8 567.1,167.9 563.1,161.8" fill="#5efa11"/>
<polygon points="537.5,158.6 541.4,165 548.6,163.7 544.7,157.5" fill="#87fa11"/>
<polygon points="519.2,155.2 523.1,161.8 530.3,160.1 526.4,153.7" fill="#aafa11"/>
<polygon points="501.1,152.3 504.9,159 512,157 508.2,150.5" fill="#c6fa11"/>
<polygon points="567.1,167.9 571.1,174.1 578.4,173.4 574.3,167.2" fill="#3efa11"/>
<polygon points="548.6,163.7 552.6,170 559.8,168.8 555.8,162.6" fill="#68fa11"/>
<polygon points="530.3,160.1 534.2,166.6 541.4,165 537.5,158.6" fill="#8cfa11"/>
<polygon points="512,157 515.9,163.7 523.1,161.8 519.2,155.2" fill="#acfa11"/>
<polygon points="559.8,168.8 563.8,175.2 571.1,174.1 567.1,167.9" fill="#49fa11"/>
<polygon points="541.4,165 545.3,171.5 552.6,170 548.6,163.7" fill="#6efa11"/>
<polygon points="523.1,161.8 526.9,168.5 534.2,166.6 530.3,160.1" fill="#90fa11"/>
<polygon points="504.9,159 508.7,166 515.9,163.7 512,157" fill="#abfa11"/>
<polygon points="552.6,170 556.6,176.6 563.8,175.2 559.8,168.8" fill="#50fa11"/>
<polygon points="534.2,166.6 538.1,173.3 545.3,171.5 541.4,165" fill="#73fa11"/>
<polygon points="515.9,163.7 519.7,170.7 526.9,168.5 523.1,161.8" fill="#90fa11"/>
<polygon points="545.3,171.5 549.3,178.3 556.6,176.6 552.6,170" fill="#55fa11"/>
<polygon points="526.9,168.5 530.8,175.4 538.1,173.3 534.2,166.6" fill="#74fa11"/>
<polygon points="508.7,166 512.5,173.1 519.7,170.7 515.9,163.7" fill="#8efa11"/>
<polygon points="538.1,173.3 542,180.3 549.3,178.3 545.3,171.5" fill="#58fa11"/>
<polygon points="519.7,170.7 523.6,177.8 530.8,175.4 526.9,168.5" fill="#74fa11"/>
<polygon points="530.8,175.4 534.8,182.5 542,180.3 538.1,173.3" fill="#59fa11"/>
<polygon points="512.5,173.1 516.4,180.5 523.6,177.8 519.7,170.7" fill="#70fa11"/>
<polygon points="523.6,177.8 527.5,185.1 534.8,182.5 530.8,175.4" fill="#57fa11"/>
<polygon points="516.4,180.5 520.2,188 527.5,185.1 523.6,177.8" fill="#52fa11"/>
</g>
<g fill="#000">
<circle cx="452" cy="178.3" r="1.3"/>
<circle cx="450.5" cy="149.5" r="1.3"/>
<circle cx="449" cy="120.6" r="1.3"/>
<circle cx="447.6" cy="91.8" r="1.3"/>
<circle cx="446.1" cy="63" r="1.3"/>
<circle cx="453.8" cy="214" r="1.3"/>
<circle cx="487.8" cy="255.5" r="1.3"/>
<circle cx="521.7" cy="297" r="1.3"/>
<circle cx="590.7" cy="272.1" r="1.3"/>
<circle cx="659.6" cy="247.3" r="1.3"/>
</g>
<g stroke="#111" stroke-width="0.3">
<text transform="translate(0.6 12.2)" font-size="16.5" font-weight="bold">a</text>
<text transform="translate(354.8 12.3)" font-size="16.5" font-weight="bold">b</text>
<text transform="translate(89.7 72.8) scale(0.82 1)" font-size="11.4" text-anchor="end">95</text>
<text transform="translate(91.2 99.6) scale(0.82 1)" font-size="11.4" text-anchor="end">89</text>
<text transform="translate(92.2 125.5) scale(0.82 1)" font-size="11.4" text-anchor="end">83</text>
<text transform="translate(93.4 151.5) scale(0.82 1)" font-size="11.4" text-anchor="end">77</text>
<text transform="translate(94.1 177.7) scale(0.82 1)" font-size="11.4" text-anchor="end">71</text>
<text transform="translate(95.4 203.8) scale(0.82 1)" font-size="11.4" text-anchor="end">65</text>
<text transform="translate(85.3 258.2) scale(0.82 1)" font-size="11.4">2.5</text>
<text transform="translate(157.7 277) scale(0.82 1)" font-size="11.4">2.0</text>
<text transform="translate(230.4 294.8) scale(0.82 1)" font-size="11.4">1.5</text>
<text transform="translate(251.6 294.8) scale(0.82 1)" font-size="11.4">600</text>
<text transform="translate(279.6 258.3) scale(0.82 1)" font-size="11.4">900</text>
<text transform="translate(307.6 221.4) scale(0.82 1)" font-size="11.4">1200</text>
<text transform="translate(74 211.3) scale(0.845 1) rotate(-92.84)" font-size="12.6" textLength="133.2" lengthAdjust="spacingAndGlyphs" word-spacing="2.4">Harvesting Efficiency (%)</text>
<text transform="translate(109.2 286.7) scale(0.845 1) rotate(11.47)" font-size="12.6" textLength="118.5" lengthAdjust="spacingAndGlyphs" word-spacing="1.8">Forward Speed (km/h)</text>
<text transform="translate(281 305.8) scale(0.845 1) rotate(-49.31)" font-size="12.6" textLength="94.4" lengthAdjust="spacingAndGlyphs" word-spacing="1.8">Blade Speed (rpm)</text>
<text transform="translate(440.6 60.6) scale(0.82 1)" font-size="11.4" text-anchor="end">8</text>
<text transform="translate(441.8 89.4) scale(0.82 1)" font-size="11.4" text-anchor="end">6</text>
<text transform="translate(443.2 118.3) scale(0.82 1)" font-size="11.4" text-anchor="end">4</text>
<text transform="translate(444.6 147.1) scale(0.82 1)" font-size="11.4" text-anchor="end">2</text>
<text transform="translate(446 175.7) scale(0.82 1)" font-size="11.4" text-anchor="end">0</text>
<text transform="translate(437.1 223.6) scale(0.82 1)" font-size="11.4">2.5</text>
<text transform="translate(472.1 265.7) scale(0.82 1)" font-size="11.4">2.0</text>
<text transform="translate(505 307) scale(0.82 1)" font-size="11.4">1.5</text>
<text transform="translate(527.6 307.3) scale(0.82 1)" font-size="11.4">600</text>
<text transform="translate(595.6 281.7) scale(0.82 1)" font-size="11.4">900</text>
<text transform="translate(665.2 256.5) scale(0.82 1)" font-size="11.4">1200</text>
<text transform="translate(427.8 183) scale(0.845 1) rotate(-93.43)" font-size="13.7" textLength="126.3" lengthAdjust="spacingAndGlyphs" word-spacing="0.6">Shattering Losses (%)</text>
<text transform="translate(422.1 227.1) scale(0.845 1) rotate(46.42)" font-size="13.7" textLength="119.7" lengthAdjust="spacingAndGlyphs" word-spacing="1.0">Forward Speed (km/h)</text>
<text transform="translate(565.8 315.3) scale(0.845 1) rotate(-14.49)" font-size="13.7" textLength="118.8" lengthAdjust="spacingAndGlyphs" word-spacing="1.0">Blade Speed (rpm)</text>
</g>
</svg>
</body></html>
